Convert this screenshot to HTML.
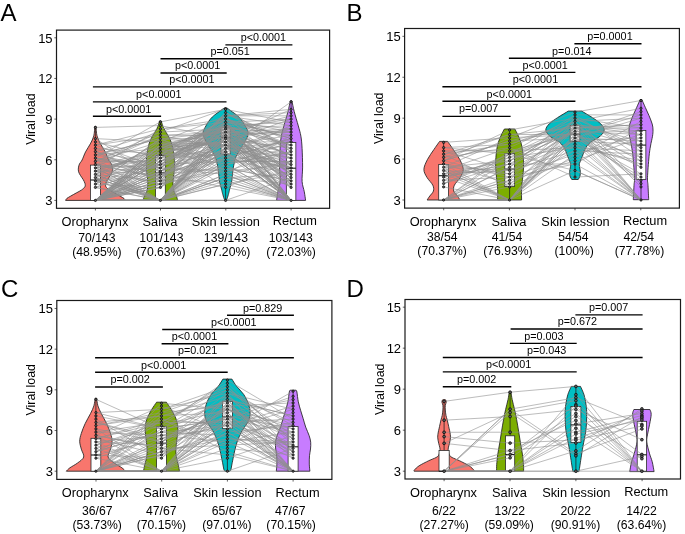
<!DOCTYPE html><html><head><meta charset="utf-8"><style>html,body{margin:0;padding:0;background:#fff}svg{display:block;will-change:transform;filter:blur(0.3px)}</style></head><body>
<svg width="685" height="534" viewBox="0 0 685 534" font-family="&quot;Liberation Sans&quot;, sans-serif" fill="#000">
<path d="M94.80,126.40 L96.00,126.40 C96.17,127.98 96.25,132.98 97.00,135.90 C97.75,138.82 99.13,141.25 100.50,143.90 C101.87,146.55 103.83,149.12 105.20,151.80 C106.57,154.48 107.68,157.98 108.70,160.00 C109.72,162.02 110.68,162.58 111.30,163.90 C111.92,165.22 112.25,166.58 112.40,167.90 C112.55,169.22 112.57,170.50 112.20,171.80 C111.83,173.10 110.97,174.40 110.20,175.70 C109.43,177.00 108.33,178.28 107.60,179.60 C106.87,180.92 106.08,182.42 105.80,183.60 C105.52,184.78 105.35,185.65 105.90,186.70 C106.45,187.75 107.65,188.85 109.10,189.90 C110.55,190.95 112.77,191.97 114.60,193.00 C116.43,194.03 118.53,195.18 120.10,196.10 C121.67,197.02 123.15,197.78 124.00,198.50 C124.85,199.22 125.00,200.08 125.20,200.40 L65.60,200.40 C65.80,200.08 65.95,199.22 66.80,198.50 C67.65,197.78 69.13,197.02 70.70,196.10 C72.27,195.18 74.37,194.03 76.20,193.00 C78.03,191.97 80.25,190.95 81.70,189.90 C83.15,188.85 84.35,187.75 84.90,186.70 C85.45,185.65 85.28,184.78 85.00,183.60 C84.72,182.42 83.93,180.92 83.20,179.60 C82.47,178.28 81.37,177.00 80.60,175.70 C79.83,174.40 78.97,173.10 78.60,171.80 C78.23,170.50 78.25,169.22 78.40,167.90 C78.55,166.58 78.88,165.22 79.50,163.90 C80.12,162.58 81.08,162.02 82.10,160.00 C83.12,157.98 84.23,154.48 85.60,151.80 C86.97,149.12 88.93,146.55 90.30,143.90 C91.67,141.25 93.05,138.82 93.80,135.90 C94.55,132.98 94.63,127.98 94.80,126.40 Z" fill="#F8766D" stroke="#222" stroke-width="0.85"/>
<path d="M159.60,120.90 L161.20,120.90 C161.63,122.17 162.53,125.83 163.80,128.50 C165.07,131.17 167.40,134.08 168.80,136.90 C170.20,139.72 171.30,142.02 172.20,145.40 C173.10,148.78 173.83,153.27 174.20,157.20 C174.57,161.13 174.60,164.78 174.40,169.00 C174.20,173.22 173.08,178.85 173.00,182.50 C172.92,186.15 173.33,188.65 173.90,190.90 C174.47,193.15 175.77,194.42 176.40,196.00 C177.03,197.58 177.48,199.67 177.70,200.40 L143.10,200.40 C143.32,199.67 143.77,197.58 144.40,196.00 C145.03,194.42 146.33,193.15 146.90,190.90 C147.47,188.65 147.88,186.15 147.80,182.50 C147.72,178.85 146.60,173.22 146.40,169.00 C146.20,164.78 146.23,161.13 146.60,157.20 C146.97,153.27 147.70,148.78 148.60,145.40 C149.50,142.02 150.60,139.72 152.00,136.90 C153.40,134.08 155.73,131.17 157.00,128.50 C158.27,125.83 159.17,122.17 159.60,120.90 Z" fill="#7CAE00" stroke="#222" stroke-width="0.85"/>
<path d="M224.40,107.90 L226.80,107.90 C227.18,108.17 228.20,108.85 229.10,109.50 C230.00,110.15 230.95,110.88 232.20,111.80 C233.45,112.72 235.08,113.68 236.60,115.00 C238.12,116.32 239.70,117.60 241.30,119.70 C242.90,121.80 245.07,125.30 246.20,127.60 C247.33,129.90 248.25,131.22 248.10,133.50 C247.95,135.78 246.60,138.68 245.30,141.30 C244.00,143.92 241.72,146.92 240.30,149.20 C238.88,151.48 237.70,153.15 236.80,155.00 C235.90,156.85 235.57,157.70 234.90,160.30 C234.23,162.90 233.32,167.17 232.80,170.60 C232.28,174.03 232.32,177.82 231.80,180.90 C231.28,183.98 230.22,187.03 229.70,189.10 C229.18,191.17 229.12,191.75 228.70,193.30 C228.28,194.85 227.62,197.22 227.20,198.40 C226.78,199.58 226.37,200.07 226.20,200.40 L225.00,200.40 C224.83,200.07 224.42,199.58 224.00,198.40 C223.58,197.22 222.92,194.85 222.50,193.30 C222.08,191.75 222.02,191.17 221.50,189.10 C220.98,187.03 219.92,183.98 219.40,180.90 C218.88,177.82 218.92,174.03 218.40,170.60 C217.88,167.17 216.97,162.90 216.30,160.30 C215.63,157.70 215.30,156.85 214.40,155.00 C213.50,153.15 212.32,151.48 210.90,149.20 C209.48,146.92 207.20,143.92 205.90,141.30 C204.60,138.68 203.25,135.78 203.10,133.50 C202.95,131.22 203.87,129.90 205.00,127.60 C206.13,125.30 208.30,121.80 209.90,119.70 C211.50,117.60 213.08,116.32 214.60,115.00 C216.12,113.68 217.75,112.72 219.00,111.80 C220.25,110.88 221.20,110.15 222.10,109.50 C223.00,108.85 224.02,108.17 224.40,107.90 Z" fill="#00BFC4" stroke="#222" stroke-width="0.85"/>
<path d="M290.30,100.80 L291.90,100.80 C292.28,102.58 293.13,107.32 294.20,111.50 C295.27,115.68 297.18,121.78 298.30,125.90 C299.42,130.02 300.27,132.42 300.90,136.20 C301.53,139.98 301.82,143.45 302.10,148.60 C302.38,153.75 302.60,161.62 302.60,167.10 C302.60,172.58 301.82,177.38 302.10,181.50 C302.38,185.62 303.72,188.65 304.30,191.80 C304.88,194.95 305.38,198.97 305.60,200.40 L276.60,200.40 C276.82,198.97 277.32,194.95 277.90,191.80 C278.48,188.65 279.82,185.62 280.10,181.50 C280.38,177.38 279.60,172.58 279.60,167.10 C279.60,161.62 279.82,153.75 280.10,148.60 C280.38,143.45 280.67,139.98 281.30,136.20 C281.93,132.42 282.78,130.02 283.90,125.90 C285.02,121.78 286.93,115.68 288.00,111.50 C289.07,107.32 289.92,102.58 290.30,100.80 Z" fill="#C77CFF" stroke="#222" stroke-width="0.85"/>
<line x1="95.4" y1="127.40" x2="95.4" y2="165.1" stroke="#222" stroke-width="0.8"/>
<line x1="95.4" y1="200.4" x2="95.4" y2="200.40" stroke="#222" stroke-width="0.8"/>
<rect x="90.40" y="165.1" width="10.00" height="35.30" fill="#fff" stroke="#2a2a2a" stroke-width="0.8"/>
<line x1="90.40" y1="180.0" x2="100.40" y2="180.0" stroke="#1a1a1a" stroke-width="1.1"/>
<line x1="160.4" y1="121.90" x2="160.4" y2="155.5" stroke="#222" stroke-width="0.8"/>
<line x1="160.4" y1="200.4" x2="160.4" y2="200.40" stroke="#222" stroke-width="0.8"/>
<rect x="155.50" y="155.5" width="9.80" height="44.90" fill="#fff" stroke="#2a2a2a" stroke-width="0.8"/>
<line x1="155.50" y1="172.7" x2="165.30" y2="172.7" stroke="#1a1a1a" stroke-width="1.1"/>
<line x1="225.6" y1="108.90" x2="225.6" y2="127.6" stroke="#222" stroke-width="0.8"/>
<line x1="225.6" y1="154.1" x2="225.6" y2="200.40" stroke="#222" stroke-width="0.8"/>
<rect x="221.00" y="127.6" width="9.20" height="26.50" fill="#fff" stroke="#2a2a2a" stroke-width="0.8"/>
<line x1="221.00" y1="137.4" x2="230.20" y2="137.4" stroke="#1a1a1a" stroke-width="1.1"/>
<line x1="291.1" y1="101.80" x2="291.1" y2="142.4" stroke="#222" stroke-width="0.8"/>
<line x1="291.1" y1="200.4" x2="291.1" y2="200.40" stroke="#222" stroke-width="0.8"/>
<rect x="286.35" y="142.4" width="9.50" height="58.00" fill="#fff" stroke="#2a2a2a" stroke-width="0.8"/>
<line x1="286.35" y1="168.2" x2="295.85" y2="168.2" stroke="#1a1a1a" stroke-width="1.1"/>
<path d="M95.4,161.38L160.4,135.36M160.4,135.36L225.6,132.11M225.6,132.11L291.1,154.87M95.4,145.12L160.4,128.86M160.4,128.86L225.6,122.35M225.6,122.35L291.1,119.10M95.4,200.40L160.4,177.64M160.4,177.64L225.6,148.37M225.6,148.37L291.1,101.80M95.4,200.40L160.4,177.64M160.4,177.64L225.6,135.36M225.6,135.36L291.1,177.64M95.4,200.40L160.4,200.40M160.4,200.40L225.6,151.62M225.6,151.62L291.1,200.40M95.4,200.40L160.4,151.62M160.4,151.62L225.6,141.86M225.6,141.86L291.1,200.40M95.4,171.13L160.4,184.14M160.4,184.14L225.6,171.13M225.6,171.13L291.1,164.63M95.4,200.40L160.4,200.40M160.4,200.40L225.6,138.61M225.6,138.61L291.1,200.40M95.4,180.89L160.4,154.87M160.4,154.87L225.6,122.35M225.6,122.35L291.1,200.40M95.4,174.38L160.4,145.12M160.4,145.12L225.6,128.86M225.6,128.86L291.1,171.13M95.4,200.40L160.4,138.61M160.4,138.61L225.6,171.13M225.6,171.13L291.1,151.62M95.4,200.40L160.4,180.89M160.4,180.89L225.6,164.63M225.6,164.63L291.1,200.40M95.4,200.40L160.4,200.40M160.4,200.40L225.6,125.60M225.6,125.60L291.1,164.63M95.4,180.89L160.4,200.40M160.4,200.40L225.6,141.86M225.6,141.86L291.1,141.86M95.4,200.40L160.4,187.39M160.4,187.39L225.6,138.61M225.6,138.61L291.1,200.40M95.4,200.40L160.4,145.12M160.4,145.12L225.6,141.86M225.6,141.86L291.1,180.89M95.4,167.88L160.4,184.14M160.4,184.14L225.6,125.60M225.6,125.60L291.1,145.12M95.4,138.61L160.4,141.86M160.4,141.86L225.6,115.85M225.6,115.85L291.1,112.60M95.4,200.40L160.4,180.89M160.4,180.89L225.6,180.89M225.6,180.89L291.1,200.40M95.4,151.62L160.4,180.89M160.4,180.89L225.6,148.37M225.6,148.37L291.1,184.14M95.4,187.39L160.4,164.63M160.4,164.63L225.6,132.11M225.6,132.11L291.1,115.85M95.4,167.88L160.4,200.40M160.4,200.40L225.6,148.37M225.6,148.37L291.1,171.13M95.4,154.87L160.4,138.61M160.4,138.61L225.6,145.12M225.6,145.12L291.1,158.12M95.4,200.40L160.4,200.40M160.4,200.40L225.6,122.35M225.6,122.35L291.1,184.14M95.4,184.14L160.4,187.39M160.4,187.39L225.6,138.61M225.6,138.61L291.1,180.89M95.4,141.86L160.4,158.12M160.4,158.12L225.6,119.10M225.6,119.10L291.1,132.11M95.4,161.38L160.4,141.86M160.4,141.86L225.6,158.12M225.6,158.12L291.1,158.12M95.4,177.64L160.4,200.40M160.4,200.40L225.6,177.64M225.6,177.64L291.1,184.14M95.4,200.40L160.4,200.40M160.4,200.40L225.6,167.88M225.6,167.88L291.1,180.89M95.4,200.40L160.4,171.13M160.4,171.13L225.6,132.11M225.6,132.11L291.1,128.86M95.4,164.63L160.4,171.13M160.4,171.13L225.6,151.62M225.6,151.62L291.1,200.40M95.4,171.13L160.4,148.37M160.4,148.37L225.6,125.60M225.6,125.60L291.1,145.12M95.4,200.40L160.4,161.38M160.4,161.38L225.6,125.60M225.6,125.60L291.1,174.38M95.4,200.40L160.4,161.38M160.4,161.38L225.6,135.36M225.6,135.36L291.1,154.87M95.4,200.40L160.4,171.13M160.4,171.13L225.6,145.12M225.6,145.12L291.1,135.36M95.4,171.13L160.4,200.40M160.4,200.40L225.6,151.62M225.6,151.62L291.1,200.40M95.4,167.88L160.4,128.86M160.4,128.86L225.6,119.10M225.6,119.10L291.1,158.12M95.4,200.40L160.4,200.40M160.4,200.40L225.6,128.86M225.6,128.86L291.1,200.40M95.4,200.40L160.4,161.38M160.4,161.38L225.6,135.36M225.6,135.36L291.1,200.40M95.4,174.38L160.4,180.89M160.4,180.89L225.6,158.12M225.6,158.12L291.1,138.61M95.4,167.88L160.4,164.63M160.4,164.63L225.6,128.86M225.6,128.86L291.1,154.87M95.4,200.40L160.4,171.13M160.4,171.13L225.6,145.12M225.6,145.12L291.1,200.40M95.4,145.12L160.4,167.88M160.4,167.88L225.6,122.35M225.6,122.35L291.1,135.36M95.4,177.64L160.4,141.86M160.4,141.86L225.6,145.12M225.6,145.12L291.1,167.88M95.4,200.40L160.4,187.39M160.4,187.39L225.6,122.35M225.6,122.35L291.1,200.40M95.4,200.40L160.4,174.38M160.4,174.38L225.6,187.39M225.6,187.39L291.1,200.40M95.4,184.14L160.4,138.61M160.4,138.61L225.6,132.11M225.6,132.11L291.1,135.36M95.4,164.63L160.4,177.64M160.4,177.64L225.6,125.60M225.6,125.60L291.1,164.63M95.4,151.62L160.4,177.64M160.4,177.64L225.6,112.60M225.6,112.60L291.1,151.62M95.4,200.40L160.4,184.14M160.4,184.14L225.6,167.88M225.6,167.88L291.1,180.89M95.4,200.40L160.4,200.40M160.4,200.40L225.6,135.36M225.6,135.36L291.1,200.40M95.4,151.62L160.4,132.11M160.4,132.11L225.6,108.90M225.6,108.90L291.1,151.62M95.4,167.88L160.4,154.87M160.4,154.87L225.6,115.85M225.6,115.85L291.1,174.38M95.4,200.40L160.4,200.40M160.4,200.40L225.6,200.40M225.6,200.40L291.1,200.40M95.4,200.40L160.4,200.40M160.4,200.40L225.6,154.87M225.6,154.87L291.1,200.40M95.4,200.40L160.4,184.14M160.4,184.14L225.6,112.60M225.6,112.60L291.1,148.37M95.4,148.37L160.4,154.87M160.4,154.87L225.6,151.62M225.6,151.62L291.1,200.40M95.4,151.62L160.4,164.63M160.4,164.63L225.6,125.60M225.6,125.60L291.1,187.39M95.4,158.12L160.4,167.88M160.4,167.88L225.6,174.38M225.6,174.38L291.1,161.38M95.4,200.40L160.4,154.87M160.4,154.87L225.6,128.86M225.6,128.86L291.1,184.14M95.4,145.12L160.4,135.36M160.4,135.36L225.6,148.37M225.6,148.37L291.1,128.86M95.4,158.12L160.4,180.89M160.4,180.89L225.6,119.10M225.6,119.10L291.1,138.61M95.4,200.40L160.4,200.40M160.4,200.40L225.6,132.11M225.6,132.11L291.1,184.14M95.4,200.40L160.4,200.40M160.4,200.40L225.6,200.40M225.6,200.40L291.1,200.40M95.4,174.38L160.4,200.40M160.4,200.40L225.6,177.64M225.6,177.64L291.1,174.38M95.4,154.87L160.4,148.37M160.4,148.37L225.6,128.86M225.6,128.86L291.1,119.10M95.4,200.40L160.4,200.40M160.4,200.40L225.6,200.40M225.6,200.40L291.1,177.64M95.4,200.40L160.4,148.37M160.4,148.37L225.6,141.86M225.6,141.86L291.1,167.88M95.4,200.40L160.4,167.88M160.4,167.88L225.6,171.13M225.6,171.13L291.1,200.40M95.4,171.13L160.4,174.38M160.4,174.38L225.6,122.35M225.6,122.35L291.1,200.40M95.4,200.40L160.4,158.12M160.4,158.12L225.6,154.87M225.6,154.87L291.1,145.12M95.4,200.40L160.4,145.12M160.4,145.12L225.6,161.38M225.6,161.38L291.1,161.38M95.4,177.64L160.4,164.63M160.4,164.63L225.6,115.85M225.6,115.85L291.1,125.60M95.4,200.40L160.4,164.63M160.4,164.63L225.6,119.10M225.6,119.10L291.1,138.61M95.4,161.38L160.4,132.11M160.4,132.11L225.6,128.86M225.6,128.86L291.1,132.11M95.4,148.37L160.4,171.13M160.4,171.13L225.6,138.61M225.6,138.61L291.1,200.40M95.4,200.40L160.4,200.40M160.4,200.40L225.6,138.61M225.6,138.61L291.1,164.63M95.4,171.13L160.4,151.62M160.4,151.62L225.6,145.12M225.6,145.12L291.1,154.87M95.4,200.40L160.4,200.40M160.4,200.40L225.6,200.40M225.6,200.40L291.1,200.40M95.4,187.39L160.4,200.40M160.4,200.40L225.6,132.11M225.6,132.11L291.1,177.64M95.4,158.12L160.4,174.38M160.4,174.38L225.6,145.12M225.6,145.12L291.1,171.13M95.4,187.39L160.4,200.40M160.4,200.40L225.6,184.14M225.6,184.14L291.1,171.13M95.4,200.40L160.4,161.38M160.4,161.38L225.6,125.60M225.6,125.60L291.1,148.37M95.4,200.40L160.4,200.40M160.4,200.40L225.6,141.86M225.6,141.86L291.1,177.64M95.4,200.40L160.4,200.40M160.4,200.40L225.6,174.38M225.6,174.38L291.1,200.40M95.4,200.40L160.4,200.40M160.4,200.40L225.6,161.38M225.6,161.38L291.1,148.37M95.4,177.64L160.4,200.40M160.4,200.40L225.6,164.63M225.6,164.63L291.1,151.62M95.4,200.40L160.4,200.40M160.4,200.40L225.6,135.36M225.6,135.36L291.1,200.40M95.4,174.38L160.4,200.40M160.4,200.40L225.6,135.36M225.6,135.36L291.1,167.88M95.4,154.87L160.4,138.61M160.4,138.61L225.6,138.61M225.6,138.61L291.1,109.34M95.4,180.89L160.4,200.40M160.4,200.40L225.6,158.12M225.6,158.12L291.1,167.88M95.4,164.63L160.4,200.40M160.4,200.40L225.6,135.36M225.6,135.36L291.1,132.11M95.4,200.40L160.4,154.87M160.4,154.87L225.6,135.36M225.6,135.36L291.1,200.40M95.4,200.40L160.4,200.40M160.4,200.40L225.6,148.37M225.6,148.37L291.1,141.86M95.4,200.40L160.4,145.12M160.4,145.12L225.6,145.12M225.6,145.12L291.1,167.88M95.4,200.40L160.4,200.40M160.4,200.40L225.6,138.61M225.6,138.61L291.1,148.37M95.4,200.40L160.4,180.89M160.4,180.89L225.6,115.85M225.6,115.85L291.1,200.40M95.4,200.40L160.4,200.40M160.4,200.40L225.6,138.61M225.6,138.61L291.1,200.40M95.4,200.40L160.4,187.39M160.4,187.39L225.6,151.62M225.6,151.62L291.1,200.40M95.4,200.40L160.4,145.12M160.4,145.12L225.6,132.11M225.6,132.11L291.1,200.40M95.4,127.40L160.4,125.60M160.4,125.60L225.6,138.61M225.6,138.61L291.1,158.12M95.4,164.63L160.4,177.64M160.4,177.64L225.6,138.61M225.6,138.61L291.1,128.86M95.4,200.40L160.4,154.87M160.4,154.87L225.6,119.10M225.6,119.10L291.1,200.40M95.4,200.40L160.4,141.86M160.4,141.86L225.6,174.38M225.6,174.38L291.1,200.40M95.4,200.40L160.4,200.40M160.4,200.40L225.6,177.64M225.6,177.64L291.1,200.40M95.4,200.40L160.4,167.88M160.4,167.88L225.6,128.86M225.6,128.86L291.1,180.89M95.4,200.40L160.4,151.62M160.4,151.62L225.6,164.63M225.6,164.63L291.1,200.40M95.4,174.38L160.4,148.37M160.4,148.37L225.6,141.86M225.6,141.86L291.1,119.10M95.4,200.40L160.4,200.40M160.4,200.40L225.6,180.89M225.6,180.89L291.1,200.40M95.4,200.40L160.4,200.40M160.4,200.40L225.6,122.35M225.6,122.35L291.1,200.40M95.4,200.40L160.4,200.40M160.4,200.40L225.6,164.63M225.6,164.63L291.1,151.62M95.4,200.40L160.4,154.87M160.4,154.87L225.6,154.87M225.6,154.87L291.1,167.88M95.4,184.14L160.4,138.61M160.4,138.61L225.6,164.63M225.6,164.63L291.1,141.86M95.4,161.38L160.4,161.38M160.4,161.38L225.6,128.86M225.6,128.86L291.1,145.12M95.4,164.63L160.4,135.36M160.4,135.36L225.6,135.36M225.6,135.36L291.1,187.39M95.4,184.14L160.4,158.12M160.4,158.12L225.6,122.35M225.6,122.35L291.1,128.86M95.4,138.61L160.4,180.89M160.4,180.89L225.6,112.60M225.6,112.60L291.1,141.86M95.4,200.40L160.4,174.38M160.4,174.38L225.6,158.12M225.6,158.12L291.1,174.38M95.4,180.89L160.4,174.38M160.4,174.38L225.6,154.87M225.6,154.87L291.1,187.39M95.4,200.40L160.4,200.40M160.4,200.40L225.6,184.14M225.6,184.14L291.1,200.40M95.4,167.88L160.4,158.12M160.4,158.12L225.6,138.61M225.6,138.61L291.1,177.64M95.4,158.12L160.4,121.90M160.4,121.90L225.6,109.34M225.6,109.34L291.1,122.35M95.4,200.40L160.4,174.38M160.4,174.38L225.6,167.88M225.6,167.88L291.1,200.40M95.4,187.39L160.4,164.63M160.4,164.63L225.6,151.62M225.6,151.62L291.1,141.86M95.4,200.40L160.4,151.62M160.4,151.62L225.6,141.86M225.6,141.86L291.1,200.40M95.4,177.64L160.4,200.40M160.4,200.40L225.6,132.11M225.6,132.11L291.1,174.38M95.4,200.40L160.4,184.14M160.4,184.14L225.6,158.12M225.6,158.12L291.1,138.61M95.4,200.40L160.4,161.38M160.4,161.38L225.6,145.12M225.6,145.12L291.1,200.40M95.4,200.40L160.4,151.62M160.4,151.62L225.6,119.10M225.6,119.10L291.1,145.12M95.4,154.87L160.4,167.88M160.4,167.88L225.6,132.11M225.6,132.11L291.1,154.87M95.4,174.38L160.4,200.40M160.4,200.40L225.6,145.12M225.6,145.12L291.1,187.39M95.4,167.88L160.4,200.40M160.4,200.40L225.6,128.86M225.6,128.86L291.1,125.60M95.4,200.40L160.4,148.37M160.4,148.37L225.6,125.60M225.6,125.60L291.1,122.35M95.4,164.63L160.4,167.88M160.4,167.88L225.6,115.85M225.6,115.85L291.1,109.34M95.4,200.40L160.4,174.38M160.4,174.38L225.6,154.87M225.6,154.87L291.1,125.60M95.4,171.13L160.4,167.88M160.4,167.88L225.6,115.85M225.6,115.85L291.1,115.85M95.4,200.40L160.4,184.14M160.4,184.14L225.6,148.37M225.6,148.37L291.1,158.12M95.4,200.40L160.4,200.40M160.4,200.40L225.6,174.38M225.6,174.38L291.1,135.36M95.4,158.12L160.4,164.63M160.4,164.63L225.6,161.38M225.6,161.38L291.1,161.38M95.4,158.12L160.4,200.40M160.4,200.40L225.6,148.37M225.6,148.37L291.1,164.63M95.4,200.40L160.4,158.12M160.4,158.12L225.6,132.11M225.6,132.11L291.1,132.11M95.4,164.63L160.4,151.62M160.4,151.62L225.6,125.60M225.6,125.60L291.1,174.38M95.4,200.40L160.4,145.12M160.4,145.12L225.6,187.39M225.6,187.39L291.1,161.38" fill="none" stroke="#8e8e8e" stroke-width="0.6"/>
<circle cx="95.4" cy="127.4" r="1.15" fill="#5c5c5c" stroke="#000" stroke-width="0.7"/>
<circle cx="95.4" cy="138.6" r="1.15" fill="#5c5c5c" stroke="#000" stroke-width="0.7"/>
<circle cx="95.4" cy="141.9" r="1.15" fill="#5c5c5c" stroke="#000" stroke-width="0.7"/>
<circle cx="95.4" cy="145.1" r="1.15" fill="#5c5c5c" stroke="#000" stroke-width="0.7"/>
<circle cx="95.4" cy="148.4" r="1.15" fill="#5c5c5c" stroke="#000" stroke-width="0.7"/>
<circle cx="95.4" cy="151.6" r="1.15" fill="#5c5c5c" stroke="#000" stroke-width="0.7"/>
<circle cx="95.4" cy="154.9" r="1.15" fill="#5c5c5c" stroke="#000" stroke-width="0.7"/>
<circle cx="95.4" cy="158.1" r="1.15" fill="#5c5c5c" stroke="#000" stroke-width="0.7"/>
<circle cx="95.4" cy="161.4" r="1.15" fill="#5c5c5c" stroke="#000" stroke-width="0.7"/>
<circle cx="95.4" cy="164.6" r="1.15" fill="#5c5c5c" stroke="#000" stroke-width="0.7"/>
<circle cx="95.4" cy="167.9" r="1.15" fill="#5c5c5c" stroke="#000" stroke-width="0.7"/>
<circle cx="95.4" cy="171.1" r="1.15" fill="#5c5c5c" stroke="#000" stroke-width="0.7"/>
<circle cx="95.4" cy="174.4" r="1.15" fill="#5c5c5c" stroke="#000" stroke-width="0.7"/>
<circle cx="95.4" cy="177.6" r="1.15" fill="#5c5c5c" stroke="#000" stroke-width="0.7"/>
<circle cx="95.4" cy="180.9" r="1.15" fill="#5c5c5c" stroke="#000" stroke-width="0.7"/>
<circle cx="95.4" cy="184.1" r="1.15" fill="#5c5c5c" stroke="#000" stroke-width="0.7"/>
<circle cx="95.4" cy="187.4" r="1.15" fill="#5c5c5c" stroke="#000" stroke-width="0.7"/>
<circle cx="95.4" cy="200.4" r="1.15" fill="#5c5c5c" stroke="#000" stroke-width="0.7"/>
<circle cx="160.4" cy="121.9" r="1.15" fill="#5c5c5c" stroke="#000" stroke-width="0.7"/>
<circle cx="160.4" cy="125.6" r="1.15" fill="#5c5c5c" stroke="#000" stroke-width="0.7"/>
<circle cx="160.4" cy="128.9" r="1.15" fill="#5c5c5c" stroke="#000" stroke-width="0.7"/>
<circle cx="160.4" cy="132.1" r="1.15" fill="#5c5c5c" stroke="#000" stroke-width="0.7"/>
<circle cx="160.4" cy="135.4" r="1.15" fill="#5c5c5c" stroke="#000" stroke-width="0.7"/>
<circle cx="160.4" cy="138.6" r="1.15" fill="#5c5c5c" stroke="#000" stroke-width="0.7"/>
<circle cx="160.4" cy="141.9" r="1.15" fill="#5c5c5c" stroke="#000" stroke-width="0.7"/>
<circle cx="160.4" cy="145.1" r="1.15" fill="#5c5c5c" stroke="#000" stroke-width="0.7"/>
<circle cx="160.4" cy="148.4" r="1.15" fill="#5c5c5c" stroke="#000" stroke-width="0.7"/>
<circle cx="160.4" cy="151.6" r="1.15" fill="#5c5c5c" stroke="#000" stroke-width="0.7"/>
<circle cx="160.4" cy="154.9" r="1.15" fill="#5c5c5c" stroke="#000" stroke-width="0.7"/>
<circle cx="160.4" cy="158.1" r="1.15" fill="#5c5c5c" stroke="#000" stroke-width="0.7"/>
<circle cx="160.4" cy="161.4" r="1.15" fill="#5c5c5c" stroke="#000" stroke-width="0.7"/>
<circle cx="160.4" cy="164.6" r="1.15" fill="#5c5c5c" stroke="#000" stroke-width="0.7"/>
<circle cx="160.4" cy="167.9" r="1.15" fill="#5c5c5c" stroke="#000" stroke-width="0.7"/>
<circle cx="160.4" cy="171.1" r="1.15" fill="#5c5c5c" stroke="#000" stroke-width="0.7"/>
<circle cx="160.4" cy="174.4" r="1.15" fill="#5c5c5c" stroke="#000" stroke-width="0.7"/>
<circle cx="160.4" cy="177.6" r="1.15" fill="#5c5c5c" stroke="#000" stroke-width="0.7"/>
<circle cx="160.4" cy="180.9" r="1.15" fill="#5c5c5c" stroke="#000" stroke-width="0.7"/>
<circle cx="160.4" cy="184.1" r="1.15" fill="#5c5c5c" stroke="#000" stroke-width="0.7"/>
<circle cx="160.4" cy="187.4" r="1.15" fill="#5c5c5c" stroke="#000" stroke-width="0.7"/>
<circle cx="160.4" cy="200.4" r="1.15" fill="#5c5c5c" stroke="#000" stroke-width="0.7"/>
<circle cx="225.6" cy="108.9" r="1.15" fill="#5c5c5c" stroke="#000" stroke-width="0.7"/>
<circle cx="225.6" cy="109.3" r="1.15" fill="#5c5c5c" stroke="#000" stroke-width="0.7"/>
<circle cx="225.6" cy="112.6" r="1.15" fill="#5c5c5c" stroke="#000" stroke-width="0.7"/>
<circle cx="225.6" cy="115.8" r="1.15" fill="#5c5c5c" stroke="#000" stroke-width="0.7"/>
<circle cx="225.6" cy="119.1" r="1.15" fill="#5c5c5c" stroke="#000" stroke-width="0.7"/>
<circle cx="225.6" cy="122.4" r="1.15" fill="#5c5c5c" stroke="#000" stroke-width="0.7"/>
<circle cx="225.6" cy="125.6" r="1.15" fill="#5c5c5c" stroke="#000" stroke-width="0.7"/>
<circle cx="225.6" cy="128.9" r="1.15" fill="#5c5c5c" stroke="#000" stroke-width="0.7"/>
<circle cx="225.6" cy="132.1" r="1.15" fill="#5c5c5c" stroke="#000" stroke-width="0.7"/>
<circle cx="225.6" cy="135.4" r="1.15" fill="#5c5c5c" stroke="#000" stroke-width="0.7"/>
<circle cx="225.6" cy="138.6" r="1.15" fill="#5c5c5c" stroke="#000" stroke-width="0.7"/>
<circle cx="225.6" cy="141.9" r="1.15" fill="#5c5c5c" stroke="#000" stroke-width="0.7"/>
<circle cx="225.6" cy="145.1" r="1.15" fill="#5c5c5c" stroke="#000" stroke-width="0.7"/>
<circle cx="225.6" cy="148.4" r="1.15" fill="#5c5c5c" stroke="#000" stroke-width="0.7"/>
<circle cx="225.6" cy="151.6" r="1.15" fill="#5c5c5c" stroke="#000" stroke-width="0.7"/>
<circle cx="225.6" cy="154.9" r="1.15" fill="#5c5c5c" stroke="#000" stroke-width="0.7"/>
<circle cx="225.6" cy="158.1" r="1.15" fill="#5c5c5c" stroke="#000" stroke-width="0.7"/>
<circle cx="225.6" cy="161.4" r="1.15" fill="#5c5c5c" stroke="#000" stroke-width="0.7"/>
<circle cx="225.6" cy="164.6" r="1.15" fill="#5c5c5c" stroke="#000" stroke-width="0.7"/>
<circle cx="225.6" cy="167.9" r="1.15" fill="#5c5c5c" stroke="#000" stroke-width="0.7"/>
<circle cx="225.6" cy="171.1" r="1.15" fill="#5c5c5c" stroke="#000" stroke-width="0.7"/>
<circle cx="225.6" cy="174.4" r="1.15" fill="#5c5c5c" stroke="#000" stroke-width="0.7"/>
<circle cx="225.6" cy="177.6" r="1.15" fill="#5c5c5c" stroke="#000" stroke-width="0.7"/>
<circle cx="225.6" cy="180.9" r="1.15" fill="#5c5c5c" stroke="#000" stroke-width="0.7"/>
<circle cx="225.6" cy="184.1" r="1.15" fill="#5c5c5c" stroke="#000" stroke-width="0.7"/>
<circle cx="225.6" cy="187.4" r="1.15" fill="#5c5c5c" stroke="#000" stroke-width="0.7"/>
<circle cx="225.6" cy="200.4" r="1.15" fill="#5c5c5c" stroke="#000" stroke-width="0.7"/>
<circle cx="291.1" cy="101.8" r="1.15" fill="#5c5c5c" stroke="#000" stroke-width="0.7"/>
<circle cx="291.1" cy="109.3" r="1.15" fill="#5c5c5c" stroke="#000" stroke-width="0.7"/>
<circle cx="291.1" cy="112.6" r="1.15" fill="#5c5c5c" stroke="#000" stroke-width="0.7"/>
<circle cx="291.1" cy="115.8" r="1.15" fill="#5c5c5c" stroke="#000" stroke-width="0.7"/>
<circle cx="291.1" cy="119.1" r="1.15" fill="#5c5c5c" stroke="#000" stroke-width="0.7"/>
<circle cx="291.1" cy="122.4" r="1.15" fill="#5c5c5c" stroke="#000" stroke-width="0.7"/>
<circle cx="291.1" cy="125.6" r="1.15" fill="#5c5c5c" stroke="#000" stroke-width="0.7"/>
<circle cx="291.1" cy="128.9" r="1.15" fill="#5c5c5c" stroke="#000" stroke-width="0.7"/>
<circle cx="291.1" cy="132.1" r="1.15" fill="#5c5c5c" stroke="#000" stroke-width="0.7"/>
<circle cx="291.1" cy="135.4" r="1.15" fill="#5c5c5c" stroke="#000" stroke-width="0.7"/>
<circle cx="291.1" cy="138.6" r="1.15" fill="#5c5c5c" stroke="#000" stroke-width="0.7"/>
<circle cx="291.1" cy="141.9" r="1.15" fill="#5c5c5c" stroke="#000" stroke-width="0.7"/>
<circle cx="291.1" cy="145.1" r="1.15" fill="#5c5c5c" stroke="#000" stroke-width="0.7"/>
<circle cx="291.1" cy="148.4" r="1.15" fill="#5c5c5c" stroke="#000" stroke-width="0.7"/>
<circle cx="291.1" cy="151.6" r="1.15" fill="#5c5c5c" stroke="#000" stroke-width="0.7"/>
<circle cx="291.1" cy="154.9" r="1.15" fill="#5c5c5c" stroke="#000" stroke-width="0.7"/>
<circle cx="291.1" cy="158.1" r="1.15" fill="#5c5c5c" stroke="#000" stroke-width="0.7"/>
<circle cx="291.1" cy="161.4" r="1.15" fill="#5c5c5c" stroke="#000" stroke-width="0.7"/>
<circle cx="291.1" cy="164.6" r="1.15" fill="#5c5c5c" stroke="#000" stroke-width="0.7"/>
<circle cx="291.1" cy="167.9" r="1.15" fill="#5c5c5c" stroke="#000" stroke-width="0.7"/>
<circle cx="291.1" cy="171.1" r="1.15" fill="#5c5c5c" stroke="#000" stroke-width="0.7"/>
<circle cx="291.1" cy="174.4" r="1.15" fill="#5c5c5c" stroke="#000" stroke-width="0.7"/>
<circle cx="291.1" cy="177.6" r="1.15" fill="#5c5c5c" stroke="#000" stroke-width="0.7"/>
<circle cx="291.1" cy="180.9" r="1.15" fill="#5c5c5c" stroke="#000" stroke-width="0.7"/>
<circle cx="291.1" cy="184.1" r="1.15" fill="#5c5c5c" stroke="#000" stroke-width="0.7"/>
<circle cx="291.1" cy="187.4" r="1.15" fill="#5c5c5c" stroke="#000" stroke-width="0.7"/>
<circle cx="291.1" cy="200.4" r="1.15" fill="#5c5c5c" stroke="#000" stroke-width="0.7"/>
<text x="0.5" y="20.5" font-size="24">A</text>
<line x1="54.3" y1="200.40" x2="56.5" y2="200.40" stroke="#666" stroke-width="1.0"/>
<text x="52.6" y="205.30" font-size="13" text-anchor="end">3</text>
<line x1="54.3" y1="159.75" x2="56.5" y2="159.75" stroke="#666" stroke-width="1.0"/>
<text x="52.6" y="164.65" font-size="13" text-anchor="end">6</text>
<line x1="54.3" y1="119.10" x2="56.5" y2="119.10" stroke="#666" stroke-width="1.0"/>
<text x="52.6" y="124.00" font-size="13" text-anchor="end">9</text>
<line x1="54.3" y1="78.45" x2="56.5" y2="78.45" stroke="#666" stroke-width="1.0"/>
<text x="52.6" y="83.35" font-size="13" text-anchor="end">12</text>
<line x1="54.3" y1="37.80" x2="56.5" y2="37.80" stroke="#666" stroke-width="1.0"/>
<text x="52.6" y="42.70" font-size="13" text-anchor="end">15</text>
<line x1="95.4" y1="208.3" x2="95.4" y2="210.5" stroke="#666" stroke-width="1.0"/>
<line x1="160.5" y1="208.3" x2="160.5" y2="210.5" stroke="#666" stroke-width="1.0"/>
<line x1="225.8" y1="208.3" x2="225.8" y2="210.5" stroke="#666" stroke-width="1.0"/>
<line x1="291.1" y1="208.3" x2="291.1" y2="210.5" stroke="#666" stroke-width="1.0"/>
<text x="0" y="0" font-size="12.4" text-anchor="middle" transform="translate(35.0,119.1) rotate(-90)">Viral load</text>
<text x="94.9" y="225.6" font-size="12.8" text-anchor="middle">Oropharynx</text>
<text x="96.9" y="241.5" font-size="12.2" text-anchor="middle">70/143</text>
<text x="96.9" y="255.6" font-size="12.2" text-anchor="middle">(48.95%)</text>
<text x="160.0" y="225.6" font-size="12.8" text-anchor="middle">Saliva</text>
<text x="161.4" y="241.5" font-size="12.2" text-anchor="middle">101/143</text>
<text x="160.8" y="255.6" font-size="12.2" text-anchor="middle">(70.63%)</text>
<text x="225.8" y="225.6" font-size="12.8" text-anchor="middle">Skin lession</text>
<text x="225.9" y="241.5" font-size="12.2" text-anchor="middle">139/143</text>
<text x="225.6" y="255.6" font-size="12.2" text-anchor="middle">(97.20%)</text>
<text x="294.9" y="224.5" font-size="12.8" text-anchor="middle">Rectum</text>
<text x="290.7" y="241.5" font-size="12.2" text-anchor="middle">103/143</text>
<text x="291.1" y="255.6" font-size="12.2" text-anchor="middle">(72.03%)</text>
<line x1="92.9" y1="116.15" x2="161.1" y2="116.15" stroke="#000" stroke-width="1.45"/>
<text x="106.0" y="112.6" font-size="10.8">p&lt;0.0001</text>
<line x1="92.9" y1="101.85" x2="226.5" y2="101.85" stroke="#000" stroke-width="1.45"/>
<text x="136.1" y="98.3" font-size="10.8">p&lt;0.0001</text>
<line x1="92.9" y1="86.85" x2="292.4" y2="86.85" stroke="#000" stroke-width="1.45"/>
<text x="169.2" y="83.3" font-size="10.8">p&lt;0.0001</text>
<line x1="160.5" y1="72.95" x2="226.7" y2="72.95" stroke="#000" stroke-width="1.45"/>
<text x="175.0" y="69.4" font-size="10.8">p&lt;0.0001</text>
<line x1="160.5" y1="58.75" x2="292.4" y2="58.75" stroke="#000" stroke-width="1.45"/>
<text x="210.5" y="55.2" font-size="10.8">p=0.051</text>
<line x1="225.4" y1="44.85" x2="292.4" y2="44.85" stroke="#000" stroke-width="1.45"/>
<text x="240.7" y="41.3" font-size="10.8">p&lt;0.0001</text>
<rect x="56.5" y="30.1" width="273.1" height="178.2" fill="none" stroke="#1a1a1a" stroke-width="1.2"/>
<path d="M439.60,141.40 L447.60,141.40 C448.57,142.78 451.37,146.67 453.40,149.70 C455.43,152.73 458.15,156.32 459.80,159.60 C461.45,162.88 463.22,166.45 463.30,169.40 C463.38,172.35 461.78,174.67 460.30,177.30 C458.82,179.93 455.48,182.90 454.40,185.20 C453.32,187.50 453.30,189.30 453.80,191.10 C454.30,192.90 456.35,194.52 457.40,196.00 C458.45,197.48 459.65,199.33 460.10,200.00 L427.10,200.00 C427.55,199.33 428.75,197.48 429.80,196.00 C430.85,194.52 432.90,192.90 433.40,191.10 C433.90,189.30 433.88,187.50 432.80,185.20 C431.72,182.90 428.38,179.93 426.90,177.30 C425.42,174.67 423.82,172.35 423.90,169.40 C423.98,166.45 425.75,162.88 427.40,159.60 C429.05,156.32 431.77,152.73 433.80,149.70 C435.83,146.67 438.63,142.78 439.60,141.40 Z" fill="#F8766D" stroke="#222" stroke-width="0.85"/>
<path d="M504.40,129.00 L514.80,129.00 C515.32,130.00 516.88,132.75 517.90,135.00 C518.92,137.25 520.13,140.00 520.90,142.50 C521.67,145.00 522.10,147.50 522.50,150.00 C522.90,152.50 523.12,155.33 523.30,157.50 C523.48,159.67 523.58,160.92 523.60,163.00 C523.62,165.08 523.58,167.28 523.40,170.00 C523.22,172.72 522.82,176.12 522.50,179.30 C522.18,182.48 521.65,185.65 521.50,189.10 C521.35,192.55 521.58,198.18 521.60,200.00 L497.60,200.00 C497.62,198.18 497.85,192.55 497.70,189.10 C497.55,185.65 497.02,182.48 496.70,179.30 C496.38,176.12 495.98,172.72 495.80,170.00 C495.62,167.28 495.58,165.08 495.60,163.00 C495.62,160.92 495.72,159.67 495.90,157.50 C496.08,155.33 496.30,152.50 496.70,150.00 C497.10,147.50 497.53,145.00 498.30,142.50 C499.07,140.00 500.28,137.25 501.30,135.00 C502.32,132.75 503.88,130.00 504.40,129.00 Z" fill="#7CAE00" stroke="#222" stroke-width="0.85"/>
<path d="M568.30,111.10 L581.70,111.10 C583.50,112.20 589.33,115.58 592.50,117.70 C595.67,119.82 598.75,121.75 600.70,123.80 C602.65,125.85 604.30,127.93 604.20,130.00 C604.10,132.07 602.40,134.13 600.10,136.20 C597.80,138.27 592.87,140.33 590.40,142.40 C587.93,144.47 586.67,146.20 585.30,148.60 C583.93,151.00 583.08,154.57 582.20,156.80 C581.32,159.03 580.48,160.63 580.00,162.00 C579.52,163.37 579.25,163.47 579.30,165.00 C579.35,166.53 580.18,169.37 580.30,171.20 C580.42,173.03 580.35,174.62 580.00,176.00 C579.65,177.38 578.50,178.92 578.20,179.50 L571.80,179.50 C571.50,178.92 570.35,177.38 570.00,176.00 C569.65,174.62 569.58,173.03 569.70,171.20 C569.82,169.37 570.65,166.53 570.70,165.00 C570.75,163.47 570.48,163.37 570.00,162.00 C569.52,160.63 568.68,159.03 567.80,156.80 C566.92,154.57 566.07,151.00 564.70,148.60 C563.33,146.20 562.07,144.47 559.60,142.40 C557.13,140.33 552.20,138.27 549.90,136.20 C547.60,134.13 545.90,132.07 545.80,130.00 C545.70,127.93 547.35,125.85 549.30,123.80 C551.25,121.75 554.33,119.82 557.50,117.70 C560.67,115.58 566.50,112.20 568.30,111.10 Z" fill="#00BFC4" stroke="#222" stroke-width="0.85"/>
<path d="M640.20,99.50 L641.80,99.50 C642.38,100.82 644.10,104.72 645.30,107.40 C646.50,110.08 647.85,112.83 649.00,115.60 C650.15,118.37 651.53,121.60 652.20,124.00 C652.87,126.40 652.95,127.97 653.00,130.00 C653.05,132.03 652.92,133.53 652.50,136.20 C652.08,138.87 651.08,142.57 650.50,146.00 C649.92,149.43 649.50,151.57 649.00,156.80 C648.50,162.03 647.67,172.60 647.50,177.40 C647.33,182.20 647.80,181.88 648.00,185.60 C648.20,189.32 648.58,197.35 648.70,199.70 L633.30,199.70 C633.42,197.35 633.80,189.32 634.00,185.60 C634.20,181.88 634.67,182.20 634.50,177.40 C634.33,172.60 633.50,162.03 633.00,156.80 C632.50,151.57 632.08,149.43 631.50,146.00 C630.92,142.57 629.92,138.87 629.50,136.20 C629.08,133.53 628.95,132.03 629.00,130.00 C629.05,127.97 629.13,126.40 629.80,124.00 C630.47,121.60 631.85,118.37 633.00,115.60 C634.15,112.83 635.50,110.08 636.70,107.40 C637.90,104.72 639.62,100.82 640.20,99.50 Z" fill="#C77CFF" stroke="#222" stroke-width="0.85"/>
<line x1="443.6" y1="142.40" x2="443.6" y2="164.5" stroke="#222" stroke-width="0.8"/>
<line x1="443.6" y1="200.0" x2="443.6" y2="200.00" stroke="#222" stroke-width="0.8"/>
<rect x="438.70" y="164.5" width="9.80" height="35.50" fill="#fff" stroke="#2a2a2a" stroke-width="0.8"/>
<line x1="438.70" y1="175.7" x2="448.50" y2="175.7" stroke="#1a1a1a" stroke-width="1.1"/>
<line x1="509.6" y1="130.00" x2="509.6" y2="153.7" stroke="#222" stroke-width="0.8"/>
<line x1="509.6" y1="186.6" x2="509.6" y2="200.00" stroke="#222" stroke-width="0.8"/>
<rect x="504.80" y="153.7" width="9.60" height="32.90" fill="#fff" stroke="#2a2a2a" stroke-width="0.8"/>
<line x1="504.80" y1="169.1" x2="514.40" y2="169.1" stroke="#1a1a1a" stroke-width="1.1"/>
<line x1="575.0" y1="112.10" x2="575.0" y2="125.5" stroke="#222" stroke-width="0.8"/>
<line x1="575.0" y1="141.4" x2="575.0" y2="177.08" stroke="#222" stroke-width="0.8"/>
<rect x="570.15" y="125.5" width="9.70" height="15.90" fill="#fff" stroke="#2a2a2a" stroke-width="0.8"/>
<line x1="570.15" y1="134.1" x2="579.85" y2="134.1" stroke="#1a1a1a" stroke-width="1.1"/>
<line x1="641.0" y1="100.50" x2="641.0" y2="130.4" stroke="#222" stroke-width="0.8"/>
<line x1="641.0" y1="179.5" x2="641.0" y2="200.00" stroke="#222" stroke-width="0.8"/>
<rect x="636.15" y="130.4" width="9.70" height="49.10" fill="#fff" stroke="#2a2a2a" stroke-width="0.8"/>
<line x1="636.15" y1="145.1" x2="645.85" y2="145.1" stroke="#1a1a1a" stroke-width="1.1"/>
<path d="M443.6,142.40L509.6,137.80M509.6,137.80L575.0,112.10M575.0,112.10L641.0,100.50M443.6,170.54L509.6,200.00M509.6,200.00L575.0,137.80M575.0,137.80L641.0,141.08M443.6,163.99L509.6,183.63M509.6,183.63L575.0,137.80M575.0,137.80L641.0,173.81M443.6,183.63L509.6,157.44M509.6,157.44L575.0,127.98M575.0,127.98L641.0,124.71M443.6,157.44L509.6,134.53M509.6,134.53L575.0,134.53M575.0,134.53L641.0,111.61M443.6,160.72L509.6,177.08M509.6,177.08L575.0,127.98M575.0,127.98L641.0,200.00M443.6,200.00L509.6,180.36M509.6,180.36L575.0,118.16M575.0,118.16L641.0,183.63M443.6,170.54L509.6,173.81M509.6,173.81L575.0,144.35M575.0,144.35L641.0,200.00M443.6,170.54L509.6,147.62M509.6,147.62L575.0,177.08M575.0,177.08L641.0,173.81M443.6,183.63L509.6,154.17M509.6,154.17L575.0,131.25M575.0,131.25L641.0,134.53M443.6,170.54L509.6,200.00M509.6,200.00L575.0,144.35M575.0,144.35L641.0,163.99M443.6,157.44L509.6,147.62M509.6,147.62L575.0,118.16M575.0,118.16L641.0,127.98M443.6,150.90L509.6,150.90M509.6,150.90L575.0,147.62M575.0,147.62L641.0,160.72M443.6,150.90L509.6,170.54M509.6,170.54L575.0,141.08M575.0,141.08L641.0,144.35M443.6,154.17L509.6,186.91M509.6,186.91L575.0,127.98M575.0,127.98L641.0,147.62M443.6,200.00L509.6,154.17M509.6,154.17L575.0,170.54M575.0,170.54L641.0,200.00M443.6,147.62L509.6,144.35M509.6,144.35L575.0,124.71M575.0,124.71L641.0,141.08M443.6,177.08L509.6,163.99M509.6,163.99L575.0,141.08M575.0,141.08L641.0,137.80M443.6,180.36L509.6,177.08M509.6,177.08L575.0,154.17M575.0,154.17L641.0,134.53M443.6,183.63L509.6,163.99M509.6,163.99L575.0,163.99M575.0,163.99L641.0,127.98M443.6,163.99L509.6,173.81M509.6,173.81L575.0,127.98M575.0,127.98L641.0,127.98M443.6,154.17L509.6,134.53M509.6,134.53L575.0,127.98M575.0,127.98L641.0,124.71M443.6,200.00L509.6,177.08M509.6,177.08L575.0,163.99M575.0,163.99L641.0,200.00M443.6,167.26L509.6,160.72M509.6,160.72L575.0,121.43M575.0,121.43L641.0,108.34M443.6,186.91L509.6,200.00M509.6,200.00L575.0,127.98M575.0,127.98L641.0,160.72M443.6,160.72L509.6,141.08M509.6,141.08L575.0,124.71M575.0,124.71L641.0,131.25M443.6,177.08L509.6,200.00M509.6,200.00L575.0,137.80M575.0,137.80L641.0,200.00M443.6,173.81L509.6,160.72M509.6,160.72L575.0,131.25M575.0,131.25L641.0,200.00M443.6,200.00L509.6,167.26M509.6,167.26L575.0,114.89M575.0,114.89L641.0,157.44M443.6,200.00L509.6,160.72M509.6,160.72L575.0,131.25M575.0,131.25L641.0,131.25M443.6,167.26L509.6,170.54M509.6,170.54L575.0,150.90M575.0,150.90L641.0,154.17M443.6,160.72L509.6,141.08M509.6,141.08L575.0,137.80M575.0,137.80L641.0,118.16M443.6,200.00L509.6,200.00M509.6,200.00L575.0,170.54M575.0,170.54L641.0,200.00M443.6,173.81L509.6,170.54M509.6,170.54L575.0,131.25M575.0,131.25L641.0,183.63M443.6,177.08L509.6,163.99M509.6,163.99L575.0,121.43M575.0,121.43L641.0,200.00M443.6,200.00L509.6,186.91M509.6,186.91L575.0,157.44M575.0,157.44L641.0,121.43M443.6,147.62L509.6,154.17M509.6,154.17L575.0,114.89M575.0,114.89L641.0,114.89M443.6,200.00L509.6,200.00M509.6,200.00L575.0,121.43M575.0,121.43L641.0,118.16M443.6,163.99L509.6,200.00M509.6,200.00L575.0,137.80M575.0,137.80L641.0,177.08M443.6,200.00L509.6,200.00M509.6,200.00L575.0,154.17M575.0,154.17L641.0,200.00M443.6,200.00L509.6,167.26M509.6,167.26L575.0,124.71M575.0,124.71L641.0,134.53M443.6,200.00L509.6,183.63M509.6,183.63L575.0,150.90M575.0,150.90L641.0,200.00M443.6,200.00L509.6,180.36M509.6,180.36L575.0,160.72M575.0,160.72L641.0,137.80M443.6,160.72L509.6,130.00M509.6,130.00L575.0,118.16M575.0,118.16L641.0,147.62M443.6,154.17L509.6,144.35M509.6,144.35L575.0,121.43M575.0,121.43L641.0,186.91M443.6,167.26L509.6,200.00M509.6,200.00L575.0,118.16M575.0,118.16L641.0,150.90M443.6,167.26L509.6,137.80M509.6,137.80L575.0,134.53M575.0,134.53L641.0,114.89M443.6,200.00L509.6,200.00M509.6,200.00L575.0,141.08M575.0,141.08L641.0,200.00M443.6,200.00L509.6,150.90M509.6,150.90L575.0,134.53M575.0,134.53L641.0,180.36M443.6,180.36L509.6,154.17M509.6,154.17L575.0,124.71M575.0,124.71L641.0,200.00M443.6,200.00L509.6,200.00M509.6,200.00L575.0,134.53M575.0,134.53L641.0,157.44M443.6,173.81L509.6,200.00M509.6,200.00L575.0,124.71M575.0,124.71L641.0,167.26M443.6,200.00L509.6,200.00M509.6,200.00L575.0,134.53M575.0,134.53L641.0,167.26M443.6,177.08L509.6,157.44M509.6,157.44L575.0,147.62M575.0,147.62L641.0,150.90" fill="none" stroke="#8e8e8e" stroke-width="0.6"/>
<circle cx="443.6" cy="142.4" r="1.15" fill="#5c5c5c" stroke="#000" stroke-width="0.7"/>
<circle cx="443.6" cy="147.6" r="1.15" fill="#5c5c5c" stroke="#000" stroke-width="0.7"/>
<circle cx="443.6" cy="150.9" r="1.15" fill="#5c5c5c" stroke="#000" stroke-width="0.7"/>
<circle cx="443.6" cy="154.2" r="1.15" fill="#5c5c5c" stroke="#000" stroke-width="0.7"/>
<circle cx="443.6" cy="157.4" r="1.15" fill="#5c5c5c" stroke="#000" stroke-width="0.7"/>
<circle cx="443.6" cy="160.7" r="1.15" fill="#5c5c5c" stroke="#000" stroke-width="0.7"/>
<circle cx="443.6" cy="164.0" r="1.15" fill="#5c5c5c" stroke="#000" stroke-width="0.7"/>
<circle cx="443.6" cy="167.3" r="1.15" fill="#5c5c5c" stroke="#000" stroke-width="0.7"/>
<circle cx="443.6" cy="170.5" r="1.15" fill="#5c5c5c" stroke="#000" stroke-width="0.7"/>
<circle cx="443.6" cy="173.8" r="1.15" fill="#5c5c5c" stroke="#000" stroke-width="0.7"/>
<circle cx="443.6" cy="177.1" r="1.15" fill="#5c5c5c" stroke="#000" stroke-width="0.7"/>
<circle cx="443.6" cy="180.4" r="1.15" fill="#5c5c5c" stroke="#000" stroke-width="0.7"/>
<circle cx="443.6" cy="183.6" r="1.15" fill="#5c5c5c" stroke="#000" stroke-width="0.7"/>
<circle cx="443.6" cy="186.9" r="1.15" fill="#5c5c5c" stroke="#000" stroke-width="0.7"/>
<circle cx="443.6" cy="200.0" r="1.15" fill="#5c5c5c" stroke="#000" stroke-width="0.7"/>
<circle cx="509.6" cy="130.0" r="1.15" fill="#5c5c5c" stroke="#000" stroke-width="0.7"/>
<circle cx="509.6" cy="134.5" r="1.15" fill="#5c5c5c" stroke="#000" stroke-width="0.7"/>
<circle cx="509.6" cy="137.8" r="1.15" fill="#5c5c5c" stroke="#000" stroke-width="0.7"/>
<circle cx="509.6" cy="141.1" r="1.15" fill="#5c5c5c" stroke="#000" stroke-width="0.7"/>
<circle cx="509.6" cy="144.3" r="1.15" fill="#5c5c5c" stroke="#000" stroke-width="0.7"/>
<circle cx="509.6" cy="147.6" r="1.15" fill="#5c5c5c" stroke="#000" stroke-width="0.7"/>
<circle cx="509.6" cy="150.9" r="1.15" fill="#5c5c5c" stroke="#000" stroke-width="0.7"/>
<circle cx="509.6" cy="154.2" r="1.15" fill="#5c5c5c" stroke="#000" stroke-width="0.7"/>
<circle cx="509.6" cy="157.4" r="1.15" fill="#5c5c5c" stroke="#000" stroke-width="0.7"/>
<circle cx="509.6" cy="160.7" r="1.15" fill="#5c5c5c" stroke="#000" stroke-width="0.7"/>
<circle cx="509.6" cy="164.0" r="1.15" fill="#5c5c5c" stroke="#000" stroke-width="0.7"/>
<circle cx="509.6" cy="167.3" r="1.15" fill="#5c5c5c" stroke="#000" stroke-width="0.7"/>
<circle cx="509.6" cy="170.5" r="1.15" fill="#5c5c5c" stroke="#000" stroke-width="0.7"/>
<circle cx="509.6" cy="173.8" r="1.15" fill="#5c5c5c" stroke="#000" stroke-width="0.7"/>
<circle cx="509.6" cy="177.1" r="1.15" fill="#5c5c5c" stroke="#000" stroke-width="0.7"/>
<circle cx="509.6" cy="180.4" r="1.15" fill="#5c5c5c" stroke="#000" stroke-width="0.7"/>
<circle cx="509.6" cy="183.6" r="1.15" fill="#5c5c5c" stroke="#000" stroke-width="0.7"/>
<circle cx="509.6" cy="186.9" r="1.15" fill="#5c5c5c" stroke="#000" stroke-width="0.7"/>
<circle cx="509.6" cy="200.0" r="1.15" fill="#5c5c5c" stroke="#000" stroke-width="0.7"/>
<circle cx="575.0" cy="112.1" r="1.15" fill="#5c5c5c" stroke="#000" stroke-width="0.7"/>
<circle cx="575.0" cy="114.9" r="1.15" fill="#5c5c5c" stroke="#000" stroke-width="0.7"/>
<circle cx="575.0" cy="118.2" r="1.15" fill="#5c5c5c" stroke="#000" stroke-width="0.7"/>
<circle cx="575.0" cy="121.4" r="1.15" fill="#5c5c5c" stroke="#000" stroke-width="0.7"/>
<circle cx="575.0" cy="124.7" r="1.15" fill="#5c5c5c" stroke="#000" stroke-width="0.7"/>
<circle cx="575.0" cy="128.0" r="1.15" fill="#5c5c5c" stroke="#000" stroke-width="0.7"/>
<circle cx="575.0" cy="131.3" r="1.15" fill="#5c5c5c" stroke="#000" stroke-width="0.7"/>
<circle cx="575.0" cy="134.5" r="1.15" fill="#5c5c5c" stroke="#000" stroke-width="0.7"/>
<circle cx="575.0" cy="137.8" r="1.15" fill="#5c5c5c" stroke="#000" stroke-width="0.7"/>
<circle cx="575.0" cy="141.1" r="1.15" fill="#5c5c5c" stroke="#000" stroke-width="0.7"/>
<circle cx="575.0" cy="144.3" r="1.15" fill="#5c5c5c" stroke="#000" stroke-width="0.7"/>
<circle cx="575.0" cy="147.6" r="1.15" fill="#5c5c5c" stroke="#000" stroke-width="0.7"/>
<circle cx="575.0" cy="150.9" r="1.15" fill="#5c5c5c" stroke="#000" stroke-width="0.7"/>
<circle cx="575.0" cy="154.2" r="1.15" fill="#5c5c5c" stroke="#000" stroke-width="0.7"/>
<circle cx="575.0" cy="157.4" r="1.15" fill="#5c5c5c" stroke="#000" stroke-width="0.7"/>
<circle cx="575.0" cy="160.7" r="1.15" fill="#5c5c5c" stroke="#000" stroke-width="0.7"/>
<circle cx="575.0" cy="164.0" r="1.15" fill="#5c5c5c" stroke="#000" stroke-width="0.7"/>
<circle cx="575.0" cy="170.5" r="1.15" fill="#5c5c5c" stroke="#000" stroke-width="0.7"/>
<circle cx="575.0" cy="177.1" r="1.15" fill="#5c5c5c" stroke="#000" stroke-width="0.7"/>
<circle cx="641.0" cy="100.5" r="1.15" fill="#5c5c5c" stroke="#000" stroke-width="0.7"/>
<circle cx="641.0" cy="108.3" r="1.15" fill="#5c5c5c" stroke="#000" stroke-width="0.7"/>
<circle cx="641.0" cy="111.6" r="1.15" fill="#5c5c5c" stroke="#000" stroke-width="0.7"/>
<circle cx="641.0" cy="114.9" r="1.15" fill="#5c5c5c" stroke="#000" stroke-width="0.7"/>
<circle cx="641.0" cy="118.2" r="1.15" fill="#5c5c5c" stroke="#000" stroke-width="0.7"/>
<circle cx="641.0" cy="121.4" r="1.15" fill="#5c5c5c" stroke="#000" stroke-width="0.7"/>
<circle cx="641.0" cy="124.7" r="1.15" fill="#5c5c5c" stroke="#000" stroke-width="0.7"/>
<circle cx="641.0" cy="128.0" r="1.15" fill="#5c5c5c" stroke="#000" stroke-width="0.7"/>
<circle cx="641.0" cy="131.3" r="1.15" fill="#5c5c5c" stroke="#000" stroke-width="0.7"/>
<circle cx="641.0" cy="134.5" r="1.15" fill="#5c5c5c" stroke="#000" stroke-width="0.7"/>
<circle cx="641.0" cy="137.8" r="1.15" fill="#5c5c5c" stroke="#000" stroke-width="0.7"/>
<circle cx="641.0" cy="141.1" r="1.15" fill="#5c5c5c" stroke="#000" stroke-width="0.7"/>
<circle cx="641.0" cy="144.3" r="1.15" fill="#5c5c5c" stroke="#000" stroke-width="0.7"/>
<circle cx="641.0" cy="147.6" r="1.15" fill="#5c5c5c" stroke="#000" stroke-width="0.7"/>
<circle cx="641.0" cy="150.9" r="1.15" fill="#5c5c5c" stroke="#000" stroke-width="0.7"/>
<circle cx="641.0" cy="154.2" r="1.15" fill="#5c5c5c" stroke="#000" stroke-width="0.7"/>
<circle cx="641.0" cy="157.4" r="1.15" fill="#5c5c5c" stroke="#000" stroke-width="0.7"/>
<circle cx="641.0" cy="160.7" r="1.15" fill="#5c5c5c" stroke="#000" stroke-width="0.7"/>
<circle cx="641.0" cy="164.0" r="1.15" fill="#5c5c5c" stroke="#000" stroke-width="0.7"/>
<circle cx="641.0" cy="167.3" r="1.15" fill="#5c5c5c" stroke="#000" stroke-width="0.7"/>
<circle cx="641.0" cy="173.8" r="1.15" fill="#5c5c5c" stroke="#000" stroke-width="0.7"/>
<circle cx="641.0" cy="177.1" r="1.15" fill="#5c5c5c" stroke="#000" stroke-width="0.7"/>
<circle cx="641.0" cy="180.4" r="1.15" fill="#5c5c5c" stroke="#000" stroke-width="0.7"/>
<circle cx="641.0" cy="183.6" r="1.15" fill="#5c5c5c" stroke="#000" stroke-width="0.7"/>
<circle cx="641.0" cy="186.9" r="1.15" fill="#5c5c5c" stroke="#000" stroke-width="0.7"/>
<circle cx="641.0" cy="200.0" r="1.15" fill="#5c5c5c" stroke="#000" stroke-width="0.7"/>
<text x="346.5" y="20.7" font-size="24">B</text>
<line x1="402.4" y1="200.00" x2="404.6" y2="200.00" stroke="#666" stroke-width="1.0"/>
<text x="400.7" y="204.90" font-size="13" text-anchor="end">3</text>
<line x1="402.4" y1="159.08" x2="404.6" y2="159.08" stroke="#666" stroke-width="1.0"/>
<text x="400.7" y="163.98" font-size="13" text-anchor="end">6</text>
<line x1="402.4" y1="118.16" x2="404.6" y2="118.16" stroke="#666" stroke-width="1.0"/>
<text x="400.7" y="123.06" font-size="13" text-anchor="end">9</text>
<line x1="402.4" y1="77.24" x2="404.6" y2="77.24" stroke="#666" stroke-width="1.0"/>
<text x="400.7" y="82.14" font-size="13" text-anchor="end">12</text>
<line x1="402.4" y1="36.32" x2="404.6" y2="36.32" stroke="#666" stroke-width="1.0"/>
<text x="400.7" y="41.22" font-size="13" text-anchor="end">15</text>
<line x1="443.7" y1="208.1" x2="443.7" y2="210.3" stroke="#666" stroke-width="1.0"/>
<line x1="509.4" y1="208.1" x2="509.4" y2="210.3" stroke="#666" stroke-width="1.0"/>
<line x1="575.0" y1="208.1" x2="575.0" y2="210.3" stroke="#666" stroke-width="1.0"/>
<line x1="640.8" y1="208.1" x2="640.8" y2="210.3" stroke="#666" stroke-width="1.0"/>
<text x="0" y="0" font-size="12.4" text-anchor="middle" transform="translate(383.1,118.2) rotate(-90)">Viral load</text>
<text x="443.1" y="225.6" font-size="12.8" text-anchor="middle">Oropharynx</text>
<text x="442.2" y="241.2" font-size="12.2" text-anchor="middle">38/54</text>
<text x="442.1" y="254.9" font-size="12.2" text-anchor="middle">(70.37%)</text>
<text x="509.0" y="225.6" font-size="12.8" text-anchor="middle">Saliva</text>
<text x="507.0" y="241.2" font-size="12.2" text-anchor="middle">41/54</text>
<text x="507.9" y="254.9" font-size="12.2" text-anchor="middle">(76.93%)</text>
<text x="575.5" y="225.6" font-size="12.8" text-anchor="middle">Skin lession</text>
<text x="573.4" y="241.2" font-size="12.2" text-anchor="middle">54/54</text>
<text x="574.2" y="254.9" font-size="12.2" text-anchor="middle">(100%)</text>
<text x="645.0" y="224.8" font-size="12.8" text-anchor="middle">Rectum</text>
<text x="638.8" y="241.2" font-size="12.2" text-anchor="middle">42/54</text>
<text x="639.5" y="254.9" font-size="12.2" text-anchor="middle">(77.78%)</text>
<line x1="442.4" y1="116.35" x2="510.6" y2="116.35" stroke="#000" stroke-width="1.45"/>
<text x="459.0" y="111.8" font-size="10.8">p=0.007</text>
<line x1="442.4" y1="101.25" x2="575.4" y2="101.25" stroke="#000" stroke-width="1.45"/>
<text x="486.6" y="97.7" font-size="10.8">p&lt;0.0001</text>
<line x1="442.4" y1="86.75" x2="641.5" y2="86.75" stroke="#000" stroke-width="1.45"/>
<text x="512.8" y="83.2" font-size="10.8">p&lt;0.0001</text>
<line x1="508.9" y1="72.35" x2="575.4" y2="72.35" stroke="#000" stroke-width="1.45"/>
<text x="522.5" y="68.8" font-size="10.8">p&lt;0.0001</text>
<line x1="508.9" y1="58.25" x2="641.5" y2="58.25" stroke="#000" stroke-width="1.45"/>
<text x="552.1" y="54.7" font-size="10.8">p=0.014</text>
<line x1="574.4" y1="43.75" x2="641.5" y2="43.75" stroke="#000" stroke-width="1.45"/>
<text x="587.3" y="40.2" font-size="10.8">p=0.0001</text>
<rect x="404.6" y="28.5" width="274.8" height="179.6" fill="none" stroke="#1a1a1a" stroke-width="1.2"/>
<path d="M95.10,398.30 L96.70,398.30 C96.90,399.55 97.13,403.25 97.90,405.80 C98.67,408.35 99.85,410.65 101.30,413.60 C102.75,416.55 105.07,420.20 106.60,423.50 C108.13,426.80 109.58,430.45 110.50,433.40 C111.42,436.35 112.10,438.58 112.10,441.20 C112.10,443.82 111.17,446.47 110.50,449.10 C109.83,451.73 107.50,454.70 108.10,457.00 C108.70,459.30 111.80,461.10 114.10,462.90 C116.40,464.70 120.00,466.42 121.90,467.80 C123.80,469.18 124.90,470.63 125.50,471.20 L66.30,471.20 C66.90,470.63 68.00,469.18 69.90,467.80 C71.80,466.42 75.40,464.70 77.70,462.90 C80.00,461.10 83.10,459.30 83.70,457.00 C84.30,454.70 81.97,451.73 81.30,449.10 C80.63,446.47 79.70,443.82 79.70,441.20 C79.70,438.58 80.38,436.35 81.30,433.40 C82.22,430.45 83.67,426.80 85.20,423.50 C86.73,420.20 89.05,416.55 90.50,413.60 C91.95,410.65 93.13,408.35 93.90,405.80 C94.67,403.25 94.90,399.55 95.10,398.30 Z" fill="#F8766D" stroke="#222" stroke-width="0.85"/>
<path d="M156.60,402.20 L166.40,402.20 C167.23,403.45 169.75,406.80 171.40,409.70 C173.05,412.60 175.22,416.32 176.30,419.60 C177.38,422.88 177.80,426.12 177.90,429.40 C178.00,432.68 177.23,436.02 176.90,439.30 C176.57,442.58 176.00,446.15 175.90,449.10 C175.80,452.05 175.90,454.37 176.30,457.00 C176.70,459.63 177.77,462.53 178.30,464.90 C178.83,467.27 179.30,470.15 179.50,471.20 L143.50,471.20 C143.70,470.15 144.17,467.27 144.70,464.90 C145.23,462.53 146.30,459.63 146.70,457.00 C147.10,454.37 147.20,452.05 147.10,449.10 C147.00,446.15 146.43,442.58 146.10,439.30 C145.77,436.02 145.00,432.68 145.10,429.40 C145.20,426.12 145.62,422.88 146.70,419.60 C147.78,416.32 149.95,412.60 151.60,409.70 C153.25,406.80 155.77,403.45 156.60,402.20 Z" fill="#7CAE00" stroke="#222" stroke-width="0.85"/>
<path d="M222.90,379.10 L231.90,379.10 C232.67,380.28 234.55,383.67 236.50,386.20 C238.45,388.73 241.58,391.27 243.60,394.30 C245.62,397.33 247.52,401.03 248.60,404.40 C249.68,407.77 250.27,411.48 250.10,414.50 C249.93,417.52 248.92,419.82 247.60,422.50 C246.28,425.18 243.88,427.57 242.20,430.60 C240.52,433.63 238.75,437.33 237.50,440.70 C236.25,444.07 235.52,447.43 234.70,450.80 C233.88,454.17 233.12,458.37 232.60,460.90 C232.08,463.43 231.88,464.57 231.60,466.00 C231.32,467.43 231.18,468.63 230.90,469.50 C230.62,470.37 230.07,470.92 229.90,471.20 L224.90,471.20 C224.73,470.92 224.18,470.37 223.90,469.50 C223.62,468.63 223.48,467.43 223.20,466.00 C222.92,464.57 222.72,463.43 222.20,460.90 C221.68,458.37 220.92,454.17 220.10,450.80 C219.28,447.43 218.55,444.07 217.30,440.70 C216.05,437.33 214.28,433.63 212.60,430.60 C210.92,427.57 208.52,425.18 207.20,422.50 C205.88,419.82 204.87,417.52 204.70,414.50 C204.53,411.48 205.12,407.77 206.20,404.40 C207.28,401.03 209.18,397.33 211.20,394.30 C213.22,391.27 216.35,388.73 218.30,386.20 C220.25,383.67 222.13,380.28 222.90,379.10 Z" fill="#00BFC4" stroke="#222" stroke-width="0.85"/>
<path d="M290.10,390.20 L296.10,390.20 C296.23,390.50 296.53,390.07 296.90,392.00 C297.27,393.93 297.68,398.75 298.30,401.80 C298.92,404.85 299.78,407.48 300.60,410.30 C301.42,413.12 302.35,415.90 303.20,418.70 C304.05,421.50 304.72,424.30 305.70,427.10 C306.68,429.90 308.27,432.98 309.10,435.50 C309.93,438.02 310.47,439.95 310.70,442.20 C310.93,444.45 310.70,446.75 310.50,449.00 C310.30,451.25 309.70,453.18 309.50,455.70 C309.30,458.22 309.23,461.52 309.30,464.10 C309.37,466.68 309.80,470.02 309.90,471.20 L276.30,471.20 C276.40,470.02 276.83,466.68 276.90,464.10 C276.97,461.52 276.90,458.22 276.70,455.70 C276.50,453.18 275.90,451.25 275.70,449.00 C275.50,446.75 275.27,444.45 275.50,442.20 C275.73,439.95 276.27,438.02 277.10,435.50 C277.93,432.98 279.52,429.90 280.50,427.10 C281.48,424.30 282.15,421.50 283.00,418.70 C283.85,415.90 284.78,413.12 285.60,410.30 C286.42,407.48 287.28,404.85 287.90,401.80 C288.52,398.75 288.93,393.93 289.30,392.00 C289.67,390.07 289.97,390.50 290.10,390.20 Z" fill="#C77CFF" stroke="#222" stroke-width="0.85"/>
<line x1="95.9" y1="399.30" x2="95.9" y2="438.3" stroke="#222" stroke-width="0.8"/>
<line x1="95.9" y1="471.2" x2="95.9" y2="471.20" stroke="#222" stroke-width="0.8"/>
<rect x="91.00" y="438.3" width="9.80" height="32.90" fill="#fff" stroke="#2a2a2a" stroke-width="0.8"/>
<line x1="91.00" y1="455.0" x2="100.80" y2="455.0" stroke="#1a1a1a" stroke-width="1.1"/>
<line x1="161.5" y1="403.20" x2="161.5" y2="426.5" stroke="#222" stroke-width="0.8"/>
<line x1="161.5" y1="471.2" x2="161.5" y2="471.20" stroke="#222" stroke-width="0.8"/>
<rect x="156.60" y="426.5" width="9.80" height="44.70" fill="#fff" stroke="#2a2a2a" stroke-width="0.8"/>
<line x1="156.60" y1="443.2" x2="166.40" y2="443.2" stroke="#1a1a1a" stroke-width="1.1"/>
<line x1="227.4" y1="380.10" x2="227.4" y2="401.3" stroke="#222" stroke-width="0.8"/>
<line x1="227.4" y1="428.6" x2="227.4" y2="471.20" stroke="#222" stroke-width="0.8"/>
<rect x="222.40" y="401.3" width="10.00" height="27.30" fill="#fff" stroke="#2a2a2a" stroke-width="0.8"/>
<line x1="222.40" y1="416.9" x2="232.40" y2="416.9" stroke="#1a1a1a" stroke-width="1.1"/>
<line x1="293.1" y1="391.20" x2="293.1" y2="426.6" stroke="#222" stroke-width="0.8"/>
<line x1="293.1" y1="471.2" x2="293.1" y2="471.20" stroke="#222" stroke-width="0.8"/>
<rect x="288.10" y="426.6" width="10.00" height="44.60" fill="#fff" stroke="#2a2a2a" stroke-width="0.8"/>
<line x1="288.10" y1="446.8" x2="298.10" y2="446.8" stroke="#1a1a1a" stroke-width="1.1"/>
<path d="M95.9,471.20L161.5,412.62M161.5,412.62L227.4,406.11M227.4,406.11L293.1,402.86M95.9,415.88L161.5,428.89M161.5,428.89L227.4,419.13M227.4,419.13L293.1,396.35M95.9,471.20L161.5,471.20M161.5,471.20L227.4,422.38M227.4,422.38L293.1,445.16M95.9,471.20L161.5,409.37M161.5,409.37L227.4,393.09M227.4,393.09L293.1,409.37M95.9,432.15L161.5,422.38M161.5,422.38L227.4,422.38M227.4,422.38L293.1,451.67M95.9,448.42L161.5,471.20M161.5,471.20L227.4,393.09M227.4,393.09L293.1,471.20M95.9,412.62L161.5,409.37M161.5,409.37L227.4,386.59M227.4,386.59L293.1,441.91M95.9,419.13L161.5,458.18M161.5,458.18L227.4,396.35M227.4,396.35L293.1,451.67M95.9,451.67L161.5,432.15M161.5,432.15L227.4,425.64M227.4,425.64L293.1,471.20M95.9,435.40L161.5,406.11M161.5,406.11L227.4,432.15M227.4,432.15L293.1,425.64M95.9,425.64L161.5,412.62M161.5,412.62L227.4,389.84M227.4,389.84L293.1,425.64M95.9,471.20L161.5,451.67M161.5,451.67L227.4,409.37M227.4,409.37L293.1,435.40M95.9,422.38L161.5,415.88M161.5,415.88L227.4,396.35M227.4,396.35L293.1,438.66M95.9,428.89L161.5,471.20M161.5,471.20L227.4,415.88M227.4,415.88L293.1,471.20M95.9,448.42L161.5,432.15M161.5,432.15L227.4,399.60M227.4,399.60L293.1,471.20M95.9,471.20L161.5,471.20M161.5,471.20L227.4,422.38M227.4,422.38L293.1,471.20M95.9,471.20L161.5,428.89M161.5,428.89L227.4,419.13M227.4,419.13L293.1,471.20M95.9,471.20L161.5,471.20M161.5,471.20L227.4,448.42M227.4,448.42L293.1,454.93M95.9,471.20L161.5,471.20M161.5,471.20L227.4,471.20M227.4,471.20L293.1,471.20M95.9,471.20L161.5,445.16M161.5,445.16L227.4,422.38M227.4,422.38L293.1,419.13M95.9,471.20L161.5,441.91M161.5,441.91L227.4,393.09M227.4,393.09L293.1,422.38M95.9,471.20L161.5,419.13M161.5,419.13L227.4,445.16M227.4,445.16L293.1,441.91M95.9,471.20L161.5,471.20M161.5,471.20L227.4,396.35M227.4,396.35L293.1,438.66M95.9,471.20L161.5,471.20M161.5,471.20L227.4,441.91M227.4,441.91L293.1,432.15M95.9,445.16L161.5,471.20M161.5,471.20L227.4,419.13M227.4,419.13L293.1,454.93M95.9,471.20L161.5,425.64M161.5,425.64L227.4,409.37M227.4,409.37L293.1,425.64M95.9,471.20L161.5,415.88M161.5,415.88L227.4,402.86M227.4,402.86L293.1,454.93M95.9,471.20L161.5,451.67M161.5,451.67L227.4,438.66M227.4,438.66L293.1,441.91M95.9,422.38L161.5,438.66M161.5,438.66L227.4,415.88M227.4,415.88L293.1,448.42M95.9,471.20L161.5,471.20M161.5,471.20L227.4,432.15M227.4,432.15L293.1,471.20M95.9,471.20L161.5,403.20M161.5,403.20L227.4,409.37M227.4,409.37L293.1,445.16M95.9,471.20L161.5,448.42M161.5,448.42L227.4,454.93M227.4,454.93L293.1,471.20M95.9,454.93L161.5,458.18M161.5,458.18L227.4,406.11M227.4,406.11L293.1,471.20M95.9,445.16L161.5,425.64M161.5,425.64L227.4,380.10M227.4,380.10L293.1,419.13M95.9,471.20L161.5,471.20M161.5,471.20L227.4,406.11M227.4,406.11L293.1,448.42M95.9,438.66L161.5,419.13M161.5,419.13L227.4,425.64M227.4,425.64L293.1,406.11M95.9,422.38L161.5,441.91M161.5,441.91L227.4,409.37M227.4,409.37L293.1,438.66M95.9,451.67L161.5,419.13M161.5,419.13L227.4,451.67M227.4,451.67L293.1,471.20M95.9,441.91L161.5,445.16M161.5,445.16L227.4,406.11M227.4,406.11L293.1,428.89M95.9,471.20L161.5,454.93M161.5,454.93L227.4,399.60M227.4,399.60L293.1,415.88M95.9,441.91L161.5,435.40M161.5,435.40L227.4,419.13M227.4,419.13L293.1,432.15M95.9,458.18L161.5,435.40M161.5,435.40L227.4,441.91M227.4,441.91L293.1,471.20M95.9,438.66L161.5,454.93M161.5,454.93L227.4,415.88M227.4,415.88L293.1,451.67M95.9,454.93L161.5,438.66M161.5,438.66L227.4,412.62M227.4,412.62L293.1,471.20M95.9,471.20L161.5,471.20M161.5,471.20L227.4,438.66M227.4,438.66L293.1,445.16M95.9,435.40L161.5,448.42M161.5,448.42L227.4,415.88M227.4,415.88L293.1,428.89M95.9,435.40L161.5,471.20M161.5,471.20L227.4,471.20M227.4,471.20L293.1,448.42M95.9,425.64L161.5,415.88M161.5,415.88L227.4,412.62M227.4,412.62L293.1,399.60M95.9,471.20L161.5,471.20M161.5,471.20L227.4,432.15M227.4,432.15L293.1,471.20M95.9,471.20L161.5,438.66M161.5,438.66L227.4,425.64M227.4,425.64L293.1,471.20M95.9,441.91L161.5,471.20M161.5,471.20L227.4,402.86M227.4,402.86L293.1,458.18M95.9,471.20L161.5,471.20M161.5,471.20L227.4,458.18M227.4,458.18L293.1,435.40M95.9,432.15L161.5,435.40M161.5,435.40L227.4,428.89M227.4,428.89L293.1,391.20M95.9,471.20L161.5,451.67M161.5,451.67L227.4,435.40M227.4,435.40L293.1,471.20M95.9,471.20L161.5,471.20M161.5,471.20L227.4,428.89M227.4,428.89L293.1,409.37M95.9,471.20L161.5,471.20M161.5,471.20L227.4,412.62M227.4,412.62L293.1,471.20M95.9,399.30L161.5,428.89M161.5,428.89L227.4,389.84M227.4,389.84L293.1,435.40M95.9,471.20L161.5,454.93M161.5,454.93L227.4,428.89M227.4,428.89L293.1,458.18M95.9,445.16L161.5,422.38M161.5,422.38L227.4,386.59M227.4,386.59L293.1,451.67M95.9,458.18L161.5,471.20M161.5,471.20L227.4,402.86M227.4,402.86L293.1,471.20M95.9,435.40L161.5,448.42M161.5,448.42L227.4,445.16M227.4,445.16L293.1,412.62M95.9,471.20L161.5,471.20M161.5,471.20L227.4,422.38M227.4,422.38L293.1,471.20M95.9,438.66L161.5,422.38M161.5,422.38L227.4,383.33M227.4,383.33L293.1,445.16M95.9,451.67L161.5,432.15M161.5,432.15L227.4,435.40M227.4,435.40L293.1,422.38M95.9,471.20L161.5,441.91M161.5,441.91L227.4,399.60M227.4,399.60L293.1,471.20M95.9,428.89L161.5,441.91M161.5,441.91L227.4,409.37M227.4,409.37L293.1,432.15M95.9,412.62L161.5,428.89M161.5,428.89L227.4,399.60M227.4,399.60L293.1,415.88" fill="none" stroke="#8e8e8e" stroke-width="0.6"/>
<circle cx="95.9" cy="399.3" r="1.15" fill="#5c5c5c" stroke="#000" stroke-width="0.7"/>
<circle cx="95.9" cy="412.6" r="1.15" fill="#5c5c5c" stroke="#000" stroke-width="0.7"/>
<circle cx="95.9" cy="415.9" r="1.15" fill="#5c5c5c" stroke="#000" stroke-width="0.7"/>
<circle cx="95.9" cy="419.1" r="1.15" fill="#5c5c5c" stroke="#000" stroke-width="0.7"/>
<circle cx="95.9" cy="422.4" r="1.15" fill="#5c5c5c" stroke="#000" stroke-width="0.7"/>
<circle cx="95.9" cy="425.6" r="1.15" fill="#5c5c5c" stroke="#000" stroke-width="0.7"/>
<circle cx="95.9" cy="428.9" r="1.15" fill="#5c5c5c" stroke="#000" stroke-width="0.7"/>
<circle cx="95.9" cy="432.1" r="1.15" fill="#5c5c5c" stroke="#000" stroke-width="0.7"/>
<circle cx="95.9" cy="435.4" r="1.15" fill="#5c5c5c" stroke="#000" stroke-width="0.7"/>
<circle cx="95.9" cy="438.7" r="1.15" fill="#5c5c5c" stroke="#000" stroke-width="0.7"/>
<circle cx="95.9" cy="441.9" r="1.15" fill="#5c5c5c" stroke="#000" stroke-width="0.7"/>
<circle cx="95.9" cy="445.2" r="1.15" fill="#5c5c5c" stroke="#000" stroke-width="0.7"/>
<circle cx="95.9" cy="448.4" r="1.15" fill="#5c5c5c" stroke="#000" stroke-width="0.7"/>
<circle cx="95.9" cy="451.7" r="1.15" fill="#5c5c5c" stroke="#000" stroke-width="0.7"/>
<circle cx="95.9" cy="454.9" r="1.15" fill="#5c5c5c" stroke="#000" stroke-width="0.7"/>
<circle cx="95.9" cy="458.2" r="1.15" fill="#5c5c5c" stroke="#000" stroke-width="0.7"/>
<circle cx="95.9" cy="471.2" r="1.15" fill="#5c5c5c" stroke="#000" stroke-width="0.7"/>
<circle cx="161.5" cy="403.2" r="1.15" fill="#5c5c5c" stroke="#000" stroke-width="0.7"/>
<circle cx="161.5" cy="406.1" r="1.15" fill="#5c5c5c" stroke="#000" stroke-width="0.7"/>
<circle cx="161.5" cy="409.4" r="1.15" fill="#5c5c5c" stroke="#000" stroke-width="0.7"/>
<circle cx="161.5" cy="412.6" r="1.15" fill="#5c5c5c" stroke="#000" stroke-width="0.7"/>
<circle cx="161.5" cy="415.9" r="1.15" fill="#5c5c5c" stroke="#000" stroke-width="0.7"/>
<circle cx="161.5" cy="419.1" r="1.15" fill="#5c5c5c" stroke="#000" stroke-width="0.7"/>
<circle cx="161.5" cy="422.4" r="1.15" fill="#5c5c5c" stroke="#000" stroke-width="0.7"/>
<circle cx="161.5" cy="425.6" r="1.15" fill="#5c5c5c" stroke="#000" stroke-width="0.7"/>
<circle cx="161.5" cy="428.9" r="1.15" fill="#5c5c5c" stroke="#000" stroke-width="0.7"/>
<circle cx="161.5" cy="432.1" r="1.15" fill="#5c5c5c" stroke="#000" stroke-width="0.7"/>
<circle cx="161.5" cy="435.4" r="1.15" fill="#5c5c5c" stroke="#000" stroke-width="0.7"/>
<circle cx="161.5" cy="438.7" r="1.15" fill="#5c5c5c" stroke="#000" stroke-width="0.7"/>
<circle cx="161.5" cy="441.9" r="1.15" fill="#5c5c5c" stroke="#000" stroke-width="0.7"/>
<circle cx="161.5" cy="445.2" r="1.15" fill="#5c5c5c" stroke="#000" stroke-width="0.7"/>
<circle cx="161.5" cy="448.4" r="1.15" fill="#5c5c5c" stroke="#000" stroke-width="0.7"/>
<circle cx="161.5" cy="451.7" r="1.15" fill="#5c5c5c" stroke="#000" stroke-width="0.7"/>
<circle cx="161.5" cy="454.9" r="1.15" fill="#5c5c5c" stroke="#000" stroke-width="0.7"/>
<circle cx="161.5" cy="458.2" r="1.15" fill="#5c5c5c" stroke="#000" stroke-width="0.7"/>
<circle cx="161.5" cy="471.2" r="1.15" fill="#5c5c5c" stroke="#000" stroke-width="0.7"/>
<circle cx="227.4" cy="380.1" r="1.15" fill="#5c5c5c" stroke="#000" stroke-width="0.7"/>
<circle cx="227.4" cy="383.3" r="1.15" fill="#5c5c5c" stroke="#000" stroke-width="0.7"/>
<circle cx="227.4" cy="386.6" r="1.15" fill="#5c5c5c" stroke="#000" stroke-width="0.7"/>
<circle cx="227.4" cy="389.8" r="1.15" fill="#5c5c5c" stroke="#000" stroke-width="0.7"/>
<circle cx="227.4" cy="393.1" r="1.15" fill="#5c5c5c" stroke="#000" stroke-width="0.7"/>
<circle cx="227.4" cy="396.3" r="1.15" fill="#5c5c5c" stroke="#000" stroke-width="0.7"/>
<circle cx="227.4" cy="399.6" r="1.15" fill="#5c5c5c" stroke="#000" stroke-width="0.7"/>
<circle cx="227.4" cy="402.9" r="1.15" fill="#5c5c5c" stroke="#000" stroke-width="0.7"/>
<circle cx="227.4" cy="406.1" r="1.15" fill="#5c5c5c" stroke="#000" stroke-width="0.7"/>
<circle cx="227.4" cy="409.4" r="1.15" fill="#5c5c5c" stroke="#000" stroke-width="0.7"/>
<circle cx="227.4" cy="412.6" r="1.15" fill="#5c5c5c" stroke="#000" stroke-width="0.7"/>
<circle cx="227.4" cy="415.9" r="1.15" fill="#5c5c5c" stroke="#000" stroke-width="0.7"/>
<circle cx="227.4" cy="419.1" r="1.15" fill="#5c5c5c" stroke="#000" stroke-width="0.7"/>
<circle cx="227.4" cy="422.4" r="1.15" fill="#5c5c5c" stroke="#000" stroke-width="0.7"/>
<circle cx="227.4" cy="425.6" r="1.15" fill="#5c5c5c" stroke="#000" stroke-width="0.7"/>
<circle cx="227.4" cy="428.9" r="1.15" fill="#5c5c5c" stroke="#000" stroke-width="0.7"/>
<circle cx="227.4" cy="432.1" r="1.15" fill="#5c5c5c" stroke="#000" stroke-width="0.7"/>
<circle cx="227.4" cy="435.4" r="1.15" fill="#5c5c5c" stroke="#000" stroke-width="0.7"/>
<circle cx="227.4" cy="438.7" r="1.15" fill="#5c5c5c" stroke="#000" stroke-width="0.7"/>
<circle cx="227.4" cy="441.9" r="1.15" fill="#5c5c5c" stroke="#000" stroke-width="0.7"/>
<circle cx="227.4" cy="445.2" r="1.15" fill="#5c5c5c" stroke="#000" stroke-width="0.7"/>
<circle cx="227.4" cy="448.4" r="1.15" fill="#5c5c5c" stroke="#000" stroke-width="0.7"/>
<circle cx="227.4" cy="451.7" r="1.15" fill="#5c5c5c" stroke="#000" stroke-width="0.7"/>
<circle cx="227.4" cy="454.9" r="1.15" fill="#5c5c5c" stroke="#000" stroke-width="0.7"/>
<circle cx="227.4" cy="458.2" r="1.15" fill="#5c5c5c" stroke="#000" stroke-width="0.7"/>
<circle cx="227.4" cy="471.2" r="1.15" fill="#5c5c5c" stroke="#000" stroke-width="0.7"/>
<circle cx="293.1" cy="391.2" r="1.15" fill="#5c5c5c" stroke="#000" stroke-width="0.7"/>
<circle cx="293.1" cy="396.3" r="1.15" fill="#5c5c5c" stroke="#000" stroke-width="0.7"/>
<circle cx="293.1" cy="399.6" r="1.15" fill="#5c5c5c" stroke="#000" stroke-width="0.7"/>
<circle cx="293.1" cy="402.9" r="1.15" fill="#5c5c5c" stroke="#000" stroke-width="0.7"/>
<circle cx="293.1" cy="406.1" r="1.15" fill="#5c5c5c" stroke="#000" stroke-width="0.7"/>
<circle cx="293.1" cy="409.4" r="1.15" fill="#5c5c5c" stroke="#000" stroke-width="0.7"/>
<circle cx="293.1" cy="412.6" r="1.15" fill="#5c5c5c" stroke="#000" stroke-width="0.7"/>
<circle cx="293.1" cy="415.9" r="1.15" fill="#5c5c5c" stroke="#000" stroke-width="0.7"/>
<circle cx="293.1" cy="419.1" r="1.15" fill="#5c5c5c" stroke="#000" stroke-width="0.7"/>
<circle cx="293.1" cy="422.4" r="1.15" fill="#5c5c5c" stroke="#000" stroke-width="0.7"/>
<circle cx="293.1" cy="425.6" r="1.15" fill="#5c5c5c" stroke="#000" stroke-width="0.7"/>
<circle cx="293.1" cy="428.9" r="1.15" fill="#5c5c5c" stroke="#000" stroke-width="0.7"/>
<circle cx="293.1" cy="432.1" r="1.15" fill="#5c5c5c" stroke="#000" stroke-width="0.7"/>
<circle cx="293.1" cy="435.4" r="1.15" fill="#5c5c5c" stroke="#000" stroke-width="0.7"/>
<circle cx="293.1" cy="438.7" r="1.15" fill="#5c5c5c" stroke="#000" stroke-width="0.7"/>
<circle cx="293.1" cy="441.9" r="1.15" fill="#5c5c5c" stroke="#000" stroke-width="0.7"/>
<circle cx="293.1" cy="445.2" r="1.15" fill="#5c5c5c" stroke="#000" stroke-width="0.7"/>
<circle cx="293.1" cy="448.4" r="1.15" fill="#5c5c5c" stroke="#000" stroke-width="0.7"/>
<circle cx="293.1" cy="451.7" r="1.15" fill="#5c5c5c" stroke="#000" stroke-width="0.7"/>
<circle cx="293.1" cy="454.9" r="1.15" fill="#5c5c5c" stroke="#000" stroke-width="0.7"/>
<circle cx="293.1" cy="458.2" r="1.15" fill="#5c5c5c" stroke="#000" stroke-width="0.7"/>
<circle cx="293.1" cy="471.2" r="1.15" fill="#5c5c5c" stroke="#000" stroke-width="0.7"/>
<text x="1.0" y="297.2" font-size="24">C</text>
<line x1="54.6" y1="471.20" x2="56.8" y2="471.20" stroke="#666" stroke-width="1.0"/>
<text x="52.9" y="476.10" font-size="13" text-anchor="end">3</text>
<line x1="54.6" y1="430.52" x2="56.8" y2="430.52" stroke="#666" stroke-width="1.0"/>
<text x="52.9" y="435.42" font-size="13" text-anchor="end">6</text>
<line x1="54.6" y1="389.84" x2="56.8" y2="389.84" stroke="#666" stroke-width="1.0"/>
<text x="52.9" y="394.74" font-size="13" text-anchor="end">9</text>
<line x1="54.6" y1="349.16" x2="56.8" y2="349.16" stroke="#666" stroke-width="1.0"/>
<text x="52.9" y="354.06" font-size="13" text-anchor="end">12</text>
<line x1="54.6" y1="308.48" x2="56.8" y2="308.48" stroke="#666" stroke-width="1.0"/>
<text x="52.9" y="313.38" font-size="13" text-anchor="end">15</text>
<line x1="96.0" y1="479.4" x2="96.0" y2="481.6" stroke="#666" stroke-width="1.0"/>
<line x1="161.7" y1="479.4" x2="161.7" y2="481.6" stroke="#666" stroke-width="1.0"/>
<line x1="227.4" y1="479.4" x2="227.4" y2="481.6" stroke="#666" stroke-width="1.0"/>
<line x1="293.1" y1="479.4" x2="293.1" y2="481.6" stroke="#666" stroke-width="1.0"/>
<text x="0" y="0" font-size="12.4" text-anchor="middle" transform="translate(35.3,389.8) rotate(-90)">Viral load</text>
<text x="95.3" y="497.3" font-size="12.8" text-anchor="middle">Oropharynx</text>
<text x="97.2" y="515.3" font-size="12.2" text-anchor="middle">36/67</text>
<text x="97.2" y="529.4" font-size="12.2" text-anchor="middle">(53.73%)</text>
<text x="160.7" y="497.3" font-size="12.8" text-anchor="middle">Saliva</text>
<text x="161.2" y="515.3" font-size="12.2" text-anchor="middle">47/67</text>
<text x="161.4" y="529.4" font-size="12.2" text-anchor="middle">(70.15%)</text>
<text x="227.4" y="497.3" font-size="12.8" text-anchor="middle">Skin lession</text>
<text x="227.0" y="515.3" font-size="12.2" text-anchor="middle">65/67</text>
<text x="226.9" y="529.4" font-size="12.2" text-anchor="middle">(97.01%)</text>
<text x="297.5" y="496.5" font-size="12.8" text-anchor="middle">Rectum</text>
<text x="290.3" y="515.3" font-size="12.2" text-anchor="middle">47/67</text>
<text x="291.1" y="529.4" font-size="12.2" text-anchor="middle">(70.15%)</text>
<line x1="95.1" y1="386.95" x2="162.9" y2="386.95" stroke="#000" stroke-width="1.45"/>
<text x="110.4" y="383.4" font-size="10.8">p=0.002</text>
<line x1="95.1" y1="372.25" x2="227.7" y2="372.25" stroke="#000" stroke-width="1.45"/>
<text x="140.9" y="368.7" font-size="10.8">p&lt;0.0001</text>
<line x1="95.1" y1="357.75" x2="293.9" y2="357.75" stroke="#000" stroke-width="1.45"/>
<text x="177.9" y="354.2" font-size="10.8">p=0.021</text>
<line x1="161.6" y1="343.65" x2="228.4" y2="343.65" stroke="#000" stroke-width="1.45"/>
<text x="171.8" y="340.1" font-size="10.8">p&lt;0.0001</text>
<line x1="162.2" y1="329.55" x2="293.9" y2="329.55" stroke="#000" stroke-width="1.45"/>
<text x="211.1" y="326.0" font-size="10.8">p&lt;0.0001</text>
<line x1="227.0" y1="315.15" x2="293.9" y2="315.15" stroke="#000" stroke-width="1.45"/>
<text x="243.0" y="311.6" font-size="10.8">p=0.829</text>
<rect x="56.8" y="300.5" width="275.1" height="178.9" fill="none" stroke="#1a1a1a" stroke-width="1.2"/>
<path d="M443.50,399.60 L444.70,399.60 C444.92,399.72 445.75,399.82 446.00,400.30 C446.25,400.78 446.32,401.67 446.20,402.50 C446.08,403.33 445.45,404.05 445.30,405.30 C445.15,406.55 445.18,408.28 445.30,410.00 C445.42,411.72 445.70,414.03 446.00,415.60 C446.30,417.17 446.75,418.03 447.10,419.40 C447.45,420.77 447.75,422.22 448.10,423.80 C448.45,425.38 448.90,427.53 449.20,428.90 C449.50,430.27 449.68,430.62 449.90,432.00 C450.12,433.38 450.57,435.32 450.50,437.20 C450.43,439.08 449.87,441.52 449.50,443.30 C449.13,445.08 448.50,446.62 448.30,447.90 C448.10,449.18 448.12,449.82 448.30,451.00 C448.48,452.18 448.77,453.92 449.40,455.00 C450.03,456.08 450.43,456.55 452.10,457.50 C453.77,458.45 456.57,459.32 459.40,460.70 C462.23,462.08 466.72,464.27 469.10,465.80 C471.48,467.33 472.87,469.00 473.70,469.90 C474.53,470.80 474.03,470.98 474.10,471.20 L414.10,471.20 C414.17,470.98 413.67,470.80 414.50,469.90 C415.33,469.00 416.72,467.33 419.10,465.80 C421.48,464.27 425.97,462.08 428.80,460.70 C431.63,459.32 434.43,458.45 436.10,457.50 C437.77,456.55 438.17,456.08 438.80,455.00 C439.43,453.92 439.72,452.18 439.90,451.00 C440.08,449.82 440.10,449.18 439.90,447.90 C439.70,446.62 439.07,445.08 438.70,443.30 C438.33,441.52 437.77,439.08 437.70,437.20 C437.63,435.32 438.08,433.38 438.30,432.00 C438.52,430.62 438.70,430.27 439.00,428.90 C439.30,427.53 439.75,425.38 440.10,423.80 C440.45,422.22 440.75,420.77 441.10,419.40 C441.45,418.03 441.90,417.17 442.20,415.60 C442.50,414.03 442.78,411.72 442.90,410.00 C443.02,408.28 443.05,406.55 442.90,405.30 C442.75,404.05 442.12,403.33 442.00,402.50 C441.88,401.67 441.95,400.78 442.20,400.30 C442.45,399.82 443.28,399.72 443.50,399.60 Z" fill="#F8766D" stroke="#222" stroke-width="0.85"/>
<path d="M509.30,391.80 L510.90,391.80 C511.12,393.12 511.58,396.73 512.20,399.70 C512.82,402.67 513.87,406.32 514.60,409.60 C515.33,412.88 515.93,415.80 516.60,419.40 C517.27,423.00 517.95,427.25 518.60,431.20 C519.25,435.15 519.85,439.15 520.50,443.10 C521.15,447.05 522.00,451.30 522.50,454.90 C523.00,458.50 523.32,461.98 523.50,464.70 C523.68,467.42 523.58,470.12 523.60,471.20 L496.60,471.20 C496.62,470.12 496.52,467.42 496.70,464.70 C496.88,461.98 497.20,458.50 497.70,454.90 C498.20,451.30 499.05,447.05 499.70,443.10 C500.35,439.15 500.95,435.15 501.60,431.20 C502.25,427.25 502.93,423.00 503.60,419.40 C504.27,415.80 504.87,412.88 505.60,409.60 C506.33,406.32 507.38,402.67 508.00,399.70 C508.62,396.73 509.08,393.12 509.30,391.80 Z" fill="#7CAE00" stroke="#222" stroke-width="0.85"/>
<path d="M571.30,386.40 L580.50,386.40 C581.08,387.78 583.08,391.67 584.00,394.70 C584.92,397.73 585.55,401.32 586.00,404.60 C586.45,407.88 586.72,410.13 586.70,414.40 C586.68,418.67 586.52,424.93 585.90,430.20 C585.28,435.47 583.80,441.40 583.00,446.00 C582.20,450.60 581.65,454.30 581.10,457.80 C580.55,461.30 580.07,464.70 579.70,467.00 C579.33,469.30 579.03,470.83 578.90,471.60 L572.90,471.60 C572.77,470.83 572.47,469.30 572.10,467.00 C571.73,464.70 571.25,461.30 570.70,457.80 C570.15,454.30 569.60,450.60 568.80,446.00 C568.00,441.40 566.52,435.47 565.90,430.20 C565.28,424.93 565.12,418.67 565.10,414.40 C565.08,410.13 565.35,407.88 565.80,404.60 C566.25,401.32 566.88,397.73 567.80,394.70 C568.72,391.67 570.72,387.78 571.30,386.40 Z" fill="#00BFC4" stroke="#222" stroke-width="0.85"/>
<path d="M633.90,409.50 L649.90,409.50 C650.12,410.32 651.25,411.93 651.20,414.40 C651.15,416.87 650.20,421.02 649.60,424.30 C649.00,427.58 648.07,431.15 647.60,434.10 C647.13,437.05 646.47,438.72 646.80,442.00 C647.13,445.28 648.70,450.52 649.60,453.80 C650.50,457.08 651.45,458.73 652.20,461.70 C652.95,464.67 653.78,469.95 654.10,471.60 L629.70,471.60 C630.02,469.95 630.85,464.67 631.60,461.70 C632.35,458.73 633.30,457.08 634.20,453.80 C635.10,450.52 636.67,445.28 637.00,442.00 C637.33,438.72 636.67,437.05 636.20,434.10 C635.73,431.15 634.80,427.58 634.20,424.30 C633.60,421.02 632.65,416.87 632.60,414.40 C632.55,411.93 633.68,410.32 633.90,409.50 Z" fill="#C77CFF" stroke="#222" stroke-width="0.85"/>
<line x1="444.1" y1="401.40" x2="444.1" y2="450.4" stroke="#222" stroke-width="0.8"/>
<line x1="444.1" y1="471.2" x2="444.1" y2="471.20" stroke="#222" stroke-width="0.8"/>
<rect x="439.00" y="450.4" width="10.20" height="20.80" fill="#fff" stroke="#2a2a2a" stroke-width="0.8"/>
<line x1="439.00" y1="471.2" x2="449.20" y2="471.2" stroke="#1a1a1a" stroke-width="1.1"/>
<line x1="510.1" y1="392.20" x2="510.1" y2="435.8" stroke="#222" stroke-width="0.8"/>
<line x1="510.1" y1="471.2" x2="510.1" y2="471.20" stroke="#222" stroke-width="0.8"/>
<rect x="505.50" y="435.8" width="9.20" height="35.40" fill="#fff" stroke="#2a2a2a" stroke-width="0.8"/>
<line x1="505.50" y1="454.5" x2="514.70" y2="454.5" stroke="#1a1a1a" stroke-width="1.1"/>
<line x1="575.9" y1="386.40" x2="575.9" y2="406.5" stroke="#222" stroke-width="0.8"/>
<line x1="575.9" y1="442.4" x2="575.9" y2="471.20" stroke="#222" stroke-width="0.8"/>
<rect x="570.90" y="406.5" width="10.00" height="35.90" fill="#fff" stroke="#2a2a2a" stroke-width="0.8"/>
<line x1="570.90" y1="424.9" x2="580.90" y2="424.9" stroke="#1a1a1a" stroke-width="1.1"/>
<line x1="641.9" y1="408.90" x2="641.9" y2="421.3" stroke="#222" stroke-width="0.8"/>
<line x1="641.9" y1="471.2" x2="641.9" y2="471.20" stroke="#222" stroke-width="0.8"/>
<rect x="637.20" y="421.3" width="9.40" height="49.90" fill="#fff" stroke="#2a2a2a" stroke-width="0.8"/>
<line x1="637.20" y1="454.8" x2="646.60" y2="454.8" stroke="#1a1a1a" stroke-width="1.1"/>
<path d="M444.1,401.40L510.1,392.20M510.1,392.20L575.9,386.40M575.9,386.40L641.9,471.20M444.1,420.20L510.1,416.50M510.1,416.50L575.9,409.50M575.9,409.50L641.9,439.70M444.1,432.30L510.1,432.20M510.1,432.20L575.9,432.20M575.9,432.20L641.9,415.50M444.1,436.60L510.1,443.10M510.1,443.10L575.9,440.00M575.9,440.00L641.9,426.00M444.1,443.30L510.1,412.50M510.1,412.50L575.9,455.80M575.9,455.80L641.9,416.80M444.1,443.30L510.1,450.60M510.1,450.60L575.9,443.00M575.9,443.00L641.9,411.00M444.1,471.20L510.1,409.20M510.1,409.20L575.9,397.70M575.9,397.70L641.9,424.40M444.1,471.20L510.1,409.20M510.1,409.20L575.9,453.80M575.9,453.80L641.9,428.90M444.1,471.20L510.1,412.50M510.1,412.50L575.9,400.60M575.9,400.60L641.9,471.20M444.1,471.20L510.1,454.50M510.1,454.50L575.9,404.60M575.9,404.60L641.9,454.50M444.1,471.20L510.1,454.50M510.1,454.50L575.9,413.40M575.9,413.40L641.9,471.20M444.1,471.20L510.1,457.80M510.1,457.80L575.9,416.40M575.9,416.40L641.9,458.70M444.1,471.20L510.1,450.60M510.1,450.60L575.9,420.30M575.9,420.30L641.9,471.20M444.1,471.20L510.1,471.20M510.1,471.20L575.9,394.70M575.9,394.70L641.9,471.20M444.1,471.20L510.1,471.20M510.1,471.20L575.9,406.00M575.9,406.00L641.9,471.20M444.1,471.20L510.1,471.20M510.1,471.20L575.9,424.00M575.9,424.00L641.9,413.50M444.1,471.20L510.1,471.20M510.1,471.20L575.9,428.20M575.9,428.20L641.9,471.20M444.1,471.20L510.1,471.20M510.1,471.20L575.9,434.10M575.9,434.10L641.9,420.00M444.1,471.20L510.1,471.20M510.1,471.20L575.9,438.10M575.9,438.10L641.9,418.10M444.1,471.20L510.1,471.20M510.1,471.20L575.9,450.90M575.9,450.90L641.9,408.90M444.1,471.20L510.1,471.20M510.1,471.20L575.9,471.20M575.9,471.20L641.9,471.20M444.1,471.20L510.1,471.20M510.1,471.20L575.9,471.20M575.9,471.20L641.9,456.50" fill="none" stroke="#8e8e8e" stroke-width="0.6"/>
<circle cx="444.1" cy="401.4" r="1.4" fill="#5c5c5c" stroke="#000" stroke-width="0.7"/>
<circle cx="444.1" cy="420.2" r="1.4" fill="#5c5c5c" stroke="#000" stroke-width="0.7"/>
<circle cx="444.1" cy="432.3" r="1.4" fill="#5c5c5c" stroke="#000" stroke-width="0.7"/>
<circle cx="444.1" cy="436.6" r="1.4" fill="#5c5c5c" stroke="#000" stroke-width="0.7"/>
<circle cx="444.1" cy="443.3" r="1.4" fill="#5c5c5c" stroke="#000" stroke-width="0.7"/>
<circle cx="444.1" cy="471.2" r="1.4" fill="#5c5c5c" stroke="#000" stroke-width="0.7"/>
<circle cx="510.1" cy="392.2" r="1.4" fill="#5c5c5c" stroke="#000" stroke-width="0.7"/>
<circle cx="510.1" cy="409.2" r="1.4" fill="#5c5c5c" stroke="#000" stroke-width="0.7"/>
<circle cx="510.1" cy="412.5" r="1.4" fill="#5c5c5c" stroke="#000" stroke-width="0.7"/>
<circle cx="510.1" cy="416.5" r="1.4" fill="#5c5c5c" stroke="#000" stroke-width="0.7"/>
<circle cx="510.1" cy="432.2" r="1.4" fill="#5c5c5c" stroke="#000" stroke-width="0.7"/>
<circle cx="510.1" cy="443.1" r="1.4" fill="#5c5c5c" stroke="#000" stroke-width="0.7"/>
<circle cx="510.1" cy="450.6" r="1.4" fill="#5c5c5c" stroke="#000" stroke-width="0.7"/>
<circle cx="510.1" cy="454.5" r="1.4" fill="#5c5c5c" stroke="#000" stroke-width="0.7"/>
<circle cx="510.1" cy="457.8" r="1.4" fill="#5c5c5c" stroke="#000" stroke-width="0.7"/>
<circle cx="510.1" cy="471.2" r="1.4" fill="#5c5c5c" stroke="#000" stroke-width="0.7"/>
<circle cx="575.9" cy="386.4" r="1.4" fill="#5c5c5c" stroke="#000" stroke-width="0.7"/>
<circle cx="575.9" cy="394.7" r="1.4" fill="#5c5c5c" stroke="#000" stroke-width="0.7"/>
<circle cx="575.9" cy="397.7" r="1.4" fill="#5c5c5c" stroke="#000" stroke-width="0.7"/>
<circle cx="575.9" cy="400.6" r="1.4" fill="#5c5c5c" stroke="#000" stroke-width="0.7"/>
<circle cx="575.9" cy="404.6" r="1.4" fill="#5c5c5c" stroke="#000" stroke-width="0.7"/>
<circle cx="575.9" cy="406.0" r="1.4" fill="#5c5c5c" stroke="#000" stroke-width="0.7"/>
<circle cx="575.9" cy="409.5" r="1.4" fill="#5c5c5c" stroke="#000" stroke-width="0.7"/>
<circle cx="575.9" cy="413.4" r="1.4" fill="#5c5c5c" stroke="#000" stroke-width="0.7"/>
<circle cx="575.9" cy="416.4" r="1.4" fill="#5c5c5c" stroke="#000" stroke-width="0.7"/>
<circle cx="575.9" cy="420.3" r="1.4" fill="#5c5c5c" stroke="#000" stroke-width="0.7"/>
<circle cx="575.9" cy="424.0" r="1.4" fill="#5c5c5c" stroke="#000" stroke-width="0.7"/>
<circle cx="575.9" cy="428.2" r="1.4" fill="#5c5c5c" stroke="#000" stroke-width="0.7"/>
<circle cx="575.9" cy="432.2" r="1.4" fill="#5c5c5c" stroke="#000" stroke-width="0.7"/>
<circle cx="575.9" cy="434.1" r="1.4" fill="#5c5c5c" stroke="#000" stroke-width="0.7"/>
<circle cx="575.9" cy="438.1" r="1.4" fill="#5c5c5c" stroke="#000" stroke-width="0.7"/>
<circle cx="575.9" cy="440.0" r="1.4" fill="#5c5c5c" stroke="#000" stroke-width="0.7"/>
<circle cx="575.9" cy="443.0" r="1.4" fill="#5c5c5c" stroke="#000" stroke-width="0.7"/>
<circle cx="575.9" cy="450.9" r="1.4" fill="#5c5c5c" stroke="#000" stroke-width="0.7"/>
<circle cx="575.9" cy="453.8" r="1.4" fill="#5c5c5c" stroke="#000" stroke-width="0.7"/>
<circle cx="575.9" cy="455.8" r="1.4" fill="#5c5c5c" stroke="#000" stroke-width="0.7"/>
<circle cx="575.9" cy="471.2" r="1.4" fill="#5c5c5c" stroke="#000" stroke-width="0.7"/>
<circle cx="641.9" cy="408.9" r="1.4" fill="#5c5c5c" stroke="#000" stroke-width="0.7"/>
<circle cx="641.9" cy="411.0" r="1.4" fill="#5c5c5c" stroke="#000" stroke-width="0.7"/>
<circle cx="641.9" cy="413.5" r="1.4" fill="#5c5c5c" stroke="#000" stroke-width="0.7"/>
<circle cx="641.9" cy="415.5" r="1.4" fill="#5c5c5c" stroke="#000" stroke-width="0.7"/>
<circle cx="641.9" cy="416.8" r="1.4" fill="#5c5c5c" stroke="#000" stroke-width="0.7"/>
<circle cx="641.9" cy="418.1" r="1.4" fill="#5c5c5c" stroke="#000" stroke-width="0.7"/>
<circle cx="641.9" cy="420.0" r="1.4" fill="#5c5c5c" stroke="#000" stroke-width="0.7"/>
<circle cx="641.9" cy="424.4" r="1.4" fill="#5c5c5c" stroke="#000" stroke-width="0.7"/>
<circle cx="641.9" cy="426.0" r="1.4" fill="#5c5c5c" stroke="#000" stroke-width="0.7"/>
<circle cx="641.9" cy="428.9" r="1.4" fill="#5c5c5c" stroke="#000" stroke-width="0.7"/>
<circle cx="641.9" cy="439.7" r="1.4" fill="#5c5c5c" stroke="#000" stroke-width="0.7"/>
<circle cx="641.9" cy="454.5" r="1.4" fill="#5c5c5c" stroke="#000" stroke-width="0.7"/>
<circle cx="641.9" cy="456.5" r="1.4" fill="#5c5c5c" stroke="#000" stroke-width="0.7"/>
<circle cx="641.9" cy="458.7" r="1.4" fill="#5c5c5c" stroke="#000" stroke-width="0.7"/>
<circle cx="641.9" cy="471.2" r="1.4" fill="#5c5c5c" stroke="#000" stroke-width="0.7"/>
<text x="346.5" y="297.2" font-size="24">D</text>
<line x1="402.8" y1="471.20" x2="405.0" y2="471.20" stroke="#666" stroke-width="1.0"/>
<text x="401.1" y="476.10" font-size="13" text-anchor="end">3</text>
<line x1="402.8" y1="430.19" x2="405.0" y2="430.19" stroke="#666" stroke-width="1.0"/>
<text x="401.1" y="435.09" font-size="13" text-anchor="end">6</text>
<line x1="402.8" y1="389.18" x2="405.0" y2="389.18" stroke="#666" stroke-width="1.0"/>
<text x="401.1" y="394.08" font-size="13" text-anchor="end">9</text>
<line x1="402.8" y1="348.17" x2="405.0" y2="348.17" stroke="#666" stroke-width="1.0"/>
<text x="401.1" y="353.07" font-size="13" text-anchor="end">12</text>
<line x1="402.8" y1="307.16" x2="405.0" y2="307.16" stroke="#666" stroke-width="1.0"/>
<text x="401.1" y="312.06" font-size="13" text-anchor="end">15</text>
<line x1="444.1" y1="479.0" x2="444.1" y2="481.2" stroke="#666" stroke-width="1.0"/>
<line x1="510.0" y1="479.0" x2="510.0" y2="481.2" stroke="#666" stroke-width="1.0"/>
<line x1="575.9" y1="479.0" x2="575.9" y2="481.2" stroke="#666" stroke-width="1.0"/>
<line x1="642.1" y1="479.0" x2="642.1" y2="481.2" stroke="#666" stroke-width="1.0"/>
<text x="0" y="0" font-size="12.4" text-anchor="middle" transform="translate(383.5,389.2) rotate(-90)">Viral load</text>
<text x="443.5" y="497.0" font-size="12.8" text-anchor="middle">Oropharynx</text>
<text x="443.9" y="514.9" font-size="12.2" text-anchor="middle">6/22</text>
<text x="444.2" y="529.1" font-size="12.2" text-anchor="middle">(27.27%)</text>
<text x="509.5" y="497.0" font-size="12.8" text-anchor="middle">Saliva</text>
<text x="509.7" y="514.9" font-size="12.2" text-anchor="middle">13/22</text>
<text x="509.2" y="529.1" font-size="12.2" text-anchor="middle">(59.09%)</text>
<text x="576.3" y="497.0" font-size="12.8" text-anchor="middle">Skin lession</text>
<text x="575.8" y="514.9" font-size="12.2" text-anchor="middle">20/22</text>
<text x="575.5" y="529.1" font-size="12.2" text-anchor="middle">(90.91%)</text>
<text x="646.2" y="495.8" font-size="12.8" text-anchor="middle">Rectum</text>
<text x="641.6" y="514.9" font-size="12.2" text-anchor="middle">14/22</text>
<text x="641.5" y="529.1" font-size="12.2" text-anchor="middle">(63.64%)</text>
<line x1="442.8" y1="386.65" x2="511.3" y2="386.65" stroke="#000" stroke-width="1.45"/>
<text x="457.0" y="383.1" font-size="10.8">p=0.002</text>
<line x1="442.8" y1="371.85" x2="576.7" y2="371.85" stroke="#000" stroke-width="1.45"/>
<text x="485.9" y="368.3" font-size="10.8">p&lt;0.0001</text>
<line x1="442.8" y1="357.45" x2="642.6" y2="357.45" stroke="#000" stroke-width="1.45"/>
<text x="526.9" y="353.9" font-size="10.8">p=0.043</text>
<line x1="509.9" y1="343.35" x2="576.7" y2="343.35" stroke="#000" stroke-width="1.45"/>
<text x="524.2" y="339.8" font-size="10.8">p=0.003</text>
<line x1="510.6" y1="328.95" x2="642.6" y2="328.95" stroke="#000" stroke-width="1.45"/>
<text x="557.8" y="325.4" font-size="10.8">p=0.672</text>
<line x1="575.4" y1="314.85" x2="642.6" y2="314.85" stroke="#000" stroke-width="1.45"/>
<text x="589.0" y="311.3" font-size="10.8">p=0.007</text>
<rect x="405.0" y="299.5" width="275.5" height="179.5" fill="none" stroke="#1a1a1a" stroke-width="1.2"/>
</svg></body></html>
